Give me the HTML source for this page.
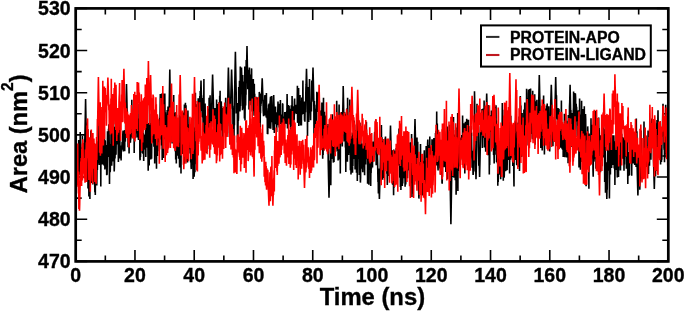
<!DOCTYPE html><html><head><meta charset="utf-8"><style>html,body{margin:0;padding:0;background:#fff;}svg{display:block;filter:blur(0.4px);}text{font-family:"Liberation Sans",sans-serif;font-weight:bold;fill:#000;stroke:#000;stroke-width:0.35px;}</style></head><body>
<svg width="685" height="314" viewBox="0 0 685 314">
<path d="M75.70 261.40V249.90M75.70 8.40V19.90M105.33 261.40V255.40M105.33 8.40V14.40M134.96 261.40V249.90M134.96 8.40V19.90M164.59 261.40V255.40M164.59 8.40V14.40M194.22 261.40V249.90M194.22 8.40V19.90M223.85 261.40V255.40M223.85 8.40V14.40M253.48 261.40V249.90M253.48 8.40V19.90M283.11 261.40V255.40M283.11 8.40V14.40M312.74 261.40V249.90M312.74 8.40V19.90M342.37 261.40V255.40M342.37 8.40V14.40M372.00 261.40V249.90M372.00 8.40V19.90M401.63 261.40V255.40M401.63 8.40V14.40M431.26 261.40V249.90M431.26 8.40V19.90M460.89 261.40V255.40M460.89 8.40V14.40M490.52 261.40V249.90M490.52 8.40V19.90M520.15 261.40V255.40M520.15 8.40V14.40M549.78 261.40V249.90M549.78 8.40V19.90M579.41 261.40V255.40M579.41 8.40V14.40M609.04 261.40V249.90M609.04 8.40V19.90M638.67 261.40V255.40M638.67 8.40V14.40M668.30 261.40V249.90M668.30 8.40V19.90M75.70 261.40H87.20M668.30 261.40H656.80M75.70 240.32H81.70M668.30 240.32H662.30M75.70 219.23H87.20M668.30 219.23H656.80M75.70 198.15H81.70M668.30 198.15H662.30M75.70 177.07H87.20M668.30 177.07H656.80M75.70 155.98H81.70M668.30 155.98H662.30M75.70 134.90H87.20M668.30 134.90H656.80M75.70 113.82H81.70M668.30 113.82H662.30M75.70 92.73H87.20M668.30 92.73H656.80M75.70 71.65H81.70M668.30 71.65H662.30M75.70 50.57H87.20M668.30 50.57H656.80M75.70 29.48H81.70M668.30 29.48H662.30M75.70 8.40H87.20M668.30 8.40H656.80" stroke="#000" stroke-width="1.6" fill="none"/>
<clipPath id="pc"><rect x="75.7" y="8.4" width="592.6" height="253.0"/></clipPath><g clip-path="url(#pc)"><polyline points="75.7,156.1 75.9,155.5 76.1,149.1 76.3,162.5 76.5,167.3 76.7,167.1 76.9,152.0 77.1,157.1 77.3,154.2 77.5,164.3 77.7,155.4 77.9,153.6 78.1,151.3 78.3,171.7 78.5,166.0 78.7,140.0 78.9,160.9 79.1,158.4 79.3,163.2 79.5,174.8 79.7,170.3 79.8,155.7 80.0,163.4 80.2,132.1 80.4,176.7 80.6,186.1 80.8,168.8 81.0,178.7 81.2,147.4 81.4,167.5 81.6,150.2 81.8,176.5 82.0,151.6 82.2,145.8 82.4,136.1 82.6,147.2 82.8,144.8 83.0,154.2 83.2,143.1 83.4,160.8 83.6,151.0 83.8,168.3 84.0,149.8 84.2,166.5 84.4,171.7 84.6,171.4 84.8,139.7 85.0,132.2 85.2,121.2 85.4,110.1 85.6,99.1 85.8,110.2 86.0,121.3 86.2,123.9 86.4,143.7 86.6,168.8 86.8,160.8 87.0,151.7 87.2,151.8 87.4,182.1 87.6,153.0 87.8,129.2 88.0,188.5 88.1,156.2 88.3,152.0 88.5,162.8 88.7,170.0 88.9,196.4 89.1,184.3 89.3,191.4 89.5,184.3 89.7,177.3 89.9,199.1 90.1,163.3 90.3,149.9 90.5,144.8 90.7,147.8 90.9,130.5 91.1,157.9 91.3,147.6 91.5,148.4 91.7,183.0 91.9,177.3 92.1,135.8 92.3,169.1 92.5,162.9 92.7,184.4 92.9,168.5 93.1,181.7 93.3,168.7 93.5,147.4 93.7,168.2 93.9,165.1 94.1,163.7 94.3,170.8 94.5,178.0 94.7,185.1 94.9,192.2 95.1,185.1 95.3,194.9 95.5,170.7 95.7,164.4 95.9,161.3 96.1,175.4 96.3,144.8 96.4,143.5 96.6,153.4 96.8,185.5 97.0,167.8 97.2,155.7 97.4,170.0 97.6,150.5 97.8,141.3 98.0,165.1 98.2,156.0 98.4,163.5 98.6,139.5 98.8,139.7 99.0,115.9 99.2,153.8 99.4,162.9 99.6,147.5 99.8,165.1 100.0,155.8 100.2,130.5 100.4,157.2 100.6,145.6 100.8,186.5 101.0,140.3 101.2,155.5 101.4,161.6 101.6,163.1 101.8,134.5 102.0,162.4 102.2,135.2 102.4,164.6 102.6,156.4 102.8,154.0 103.0,127.5 103.2,157.4 103.4,160.1 103.6,158.6 103.8,161.4 104.0,165.4 104.2,126.1 104.4,132.2 104.5,165.3 104.7,150.4 104.9,169.4 105.1,140.6 105.3,141.2 105.5,151.5 105.7,168.5 105.9,146.9 106.1,149.6 106.3,155.5 106.5,145.0 106.7,175.3 106.9,170.4 107.1,174.7 107.3,154.7 107.5,131.3 107.7,157.1 107.9,139.2 108.1,153.8 108.3,156.8 108.5,128.7 108.7,135.3 108.9,124.3 109.1,131.5 109.3,158.5 109.5,184.1 109.7,144.1 109.9,163.2 110.1,172.1 110.3,170.1 110.5,159.3 110.7,156.3 110.9,150.7 111.1,115.7 111.3,162.6 111.5,144.3 111.7,165.8 111.9,152.8 112.1,134.8 112.3,133.8 112.5,161.6 112.7,125.9 112.8,160.9 113.0,132.8 113.2,148.5 113.4,130.8 113.6,132.6 113.8,153.0 114.0,141.7 114.2,171.4 114.4,166.6 114.6,152.5 114.8,126.8 115.0,158.5 115.2,150.6 115.4,114.3 115.6,139.4 115.8,138.9 116.0,154.8 116.2,140.2 116.4,136.8 116.6,139.7 116.8,131.9 117.0,138.2 117.2,127.5 117.4,132.0 117.6,144.5 117.8,133.2 118.0,121.7 118.2,142.9 118.4,162.0 118.6,144.7 118.8,149.6 119.0,115.5 119.2,137.5 119.4,156.9 119.6,146.4 119.8,127.1 120.0,158.5 120.2,151.1 120.4,147.5 120.6,146.6 120.8,153.3 121.0,145.6 121.1,160.5 121.3,149.0 121.5,149.0 121.7,149.4 121.9,146.9 122.1,141.7 122.3,147.4 122.5,145.0 122.7,137.1 122.9,132.8 123.1,130.6 123.3,151.4 123.5,135.3 123.7,132.5 123.9,137.4 124.1,130.5 124.3,140.2 124.5,132.1 124.7,151.2 124.9,130.1 125.1,139.7 125.3,141.8 125.5,136.4 125.7,118.6 125.9,109.9 126.1,101.2 126.3,92.5 126.5,83.9 126.7,92.5 126.9,101.1 127.1,109.7 127.3,118.3 127.5,135.1 127.7,136.3 127.9,124.3 128.1,147.3 128.3,145.0 128.5,118.2 128.7,126.7 128.9,138.4 129.1,153.5 129.2,143.0 129.4,142.8 129.6,132.8 129.8,131.2 130.0,136.2 130.2,120.8 130.4,142.8 130.6,137.6 130.8,139.5 131.0,123.4 131.2,129.8 131.4,124.2 131.6,129.6 131.8,99.8 132.0,123.8 132.2,137.2 132.4,131.3 132.6,137.6 132.8,126.5 133.0,125.8 133.2,128.7 133.4,133.4 133.6,136.1 133.8,113.9 134.0,117.8 134.2,153.1 134.4,127.7 134.6,132.6 134.8,128.9 135.0,110.4 135.2,137.8 135.4,137.9 135.6,105.8 135.8,133.3 136.0,131.5 136.2,115.1 136.4,130.9 136.6,125.1 136.8,121.2 137.0,110.9 137.2,137.4 137.4,131.9 137.5,127.4 137.7,118.4 137.9,134.6 138.1,127.0 138.3,137.2 138.5,140.0 138.7,119.6 138.9,135.7 139.1,103.6 139.3,133.4 139.5,126.1 139.7,130.7 139.9,158.3 140.1,160.3 140.3,138.1 140.5,157.0 140.7,148.3 140.9,143.0 141.1,149.9 141.3,124.5 141.5,132.8 141.7,138.4 141.9,134.1 142.1,150.8 142.3,125.1 142.5,153.1 142.7,122.6 142.9,153.8 143.1,150.9 143.3,132.7 143.5,140.7 143.7,161.0 143.9,138.8 144.1,146.7 144.3,148.9 144.5,142.5 144.7,139.8 144.9,134.4 145.1,146.8 145.3,145.7 145.5,149.8 145.7,124.9 145.8,156.9 146.0,117.4 146.2,116.9 146.4,115.2 146.6,147.8 146.8,115.3 147.0,125.2 147.2,128.5 147.4,106.0 147.6,140.2 147.8,131.7 148.0,154.2 148.2,170.7 148.4,136.2 148.6,132.3 148.8,122.9 149.0,133.7 149.2,165.5 149.4,130.9 149.6,125.4 149.8,123.1 150.0,154.1 150.2,150.3 150.4,149.5 150.6,147.1 150.8,159.4 151.0,142.9 151.2,113.7 151.4,145.4 151.6,158.8 151.8,138.7 152.0,142.0 152.2,123.3 152.4,140.5 152.6,135.5 152.8,142.3 153.0,142.1 153.2,125.1 153.4,129.4 153.6,132.4 153.8,129.8 153.9,146.7 154.1,134.7 154.3,134.5 154.5,119.1 154.7,163.4 154.9,144.2 155.1,134.3 155.3,141.6 155.5,137.1 155.7,127.0 155.9,126.6 156.1,154.6 156.3,144.2 156.5,168.7 156.7,128.8 156.9,131.8 157.1,119.6 157.3,137.2 157.5,155.9 157.7,122.3 157.9,151.2 158.1,135.3 158.3,135.1 158.5,121.4 158.7,120.0 158.9,137.6 159.1,142.3 159.3,131.2 159.5,137.4 159.7,118.0 159.9,122.7 160.1,111.1 160.3,94.0 160.5,139.6 160.7,131.9 160.9,119.4 161.1,115.7 161.3,125.9 161.5,145.6 161.7,93.4 161.9,122.6 162.1,139.8 162.2,160.0 162.4,112.3 162.6,128.3 162.8,134.5 163.0,145.2 163.2,128.6 163.4,130.1 163.6,157.9 163.8,93.4 164.0,120.2 164.2,128.5 164.4,131.3 164.6,124.6 164.8,93.4 165.0,113.7 165.2,139.3 165.4,112.2 165.6,118.5 165.8,117.9 166.0,121.9 166.2,123.0 166.4,114.6 166.6,116.2 166.8,133.4 167.0,124.3 167.2,110.0 167.4,134.4 167.6,115.1 167.8,118.8 168.0,106.4 168.2,115.7 168.4,122.4 168.6,122.0 168.8,115.6 169.0,109.5 169.2,106.2 169.4,94.0 169.6,81.8 169.8,69.5 170.0,81.8 170.2,94.0 170.4,106.4 170.5,106.4 170.7,125.3 170.9,121.7 171.1,131.4 171.3,123.7 171.5,114.1 171.7,103.7 171.9,107.9 172.1,143.5 172.3,112.5 172.5,123.9 172.7,132.4 172.9,119.7 173.1,109.3 173.3,120.3 173.5,134.4 173.7,95.1 173.9,139.6 174.1,123.9 174.3,113.1 174.5,147.4 174.7,121.1 174.9,145.5 175.1,140.8 175.3,151.5 175.5,112.2 175.7,159.4 175.9,130.3 176.1,135.4 176.3,163.5 176.5,114.7 176.7,149.4 176.9,139.7 177.1,137.0 177.3,155.6 177.5,154.0 177.7,140.6 177.9,152.0 178.1,135.5 178.3,121.8 178.5,152.0 178.6,158.8 178.8,142.5 179.0,129.4 179.2,118.0 179.4,147.8 179.6,167.4 179.8,113.7 180.0,121.8 180.2,116.2 180.4,159.0 180.6,136.5 180.8,130.9 181.0,173.4 181.2,125.9 181.4,123.7 181.6,134.8 181.8,128.4 182.0,120.9 182.2,134.1 182.4,154.0 182.6,142.5 182.8,134.3 183.0,143.3 183.2,112.5 183.4,133.2 183.6,127.1 183.8,160.5 184.0,123.2 184.2,138.2 184.4,104.6 184.6,163.8 184.8,130.9 185.0,149.6 185.2,144.9 185.4,102.7 185.6,113.2 185.8,145.4 186.0,105.2 186.2,142.0 186.4,118.9 186.6,161.7 186.8,132.2 186.9,128.6 187.1,132.3 187.3,155.6 187.5,162.5 187.7,121.7 187.9,110.6 188.1,129.4 188.3,135.0 188.5,149.3 188.7,125.0 188.9,127.8 189.1,131.8 189.3,124.3 189.5,132.0 189.7,132.7 189.9,144.7 190.1,153.6 190.3,139.0 190.5,142.3 190.7,162.6 190.9,140.3 191.1,166.9 191.3,169.1 191.5,151.8 191.7,159.0 191.9,137.8 192.1,154.6 192.3,150.3 192.5,133.2 192.7,156.7 192.9,155.8 193.1,179.0 193.3,151.0 193.5,164.7 193.7,157.3 193.9,175.7 194.1,176.8 194.3,173.5 194.5,154.6 194.7,127.5 194.9,172.3 195.0,149.2 195.2,139.8 195.4,92.7 195.6,138.0 195.8,148.8 196.0,127.0 196.2,150.4 196.4,126.3 196.6,164.3 196.8,104.2 197.0,138.6 197.2,140.8 197.4,156.1 197.6,132.6 197.8,125.4 198.0,137.2 198.2,98.2 198.4,121.1 198.6,115.5 198.8,115.0 199.0,100.3 199.2,127.1 199.4,120.6 199.6,107.1 199.8,95.9 200.0,137.1 200.2,90.9 200.4,105.1 200.6,96.7 200.8,88.5 201.0,80.5 201.2,88.4 201.4,96.0 201.6,95.3 201.8,110.9 202.0,107.4 202.2,116.9 202.4,97.9 202.6,117.4 202.8,101.5 203.0,116.4 203.2,130.6 203.3,136.5 203.5,136.1 203.7,111.4 203.9,79.1 204.1,125.8 204.3,134.6 204.5,119.8 204.7,121.3 204.9,135.4 205.1,103.6 205.3,120.8 205.5,120.2 205.7,127.7 205.9,132.1 206.1,120.8 206.3,153.0 206.5,145.7 206.7,135.1 206.9,151.9 207.1,118.4 207.3,139.4 207.5,135.6 207.7,122.8 207.9,108.7 208.1,131.2 208.3,137.2 208.5,139.3 208.7,128.3 208.9,134.6 209.1,97.8 209.3,111.3 209.5,149.1 209.7,135.9 209.9,117.7 210.1,95.3 210.3,146.3 210.5,129.0 210.7,103.5 210.9,125.9 211.1,111.8 211.3,121.0 211.5,106.9 211.6,126.7 211.8,104.2 212.0,96.6 212.2,89.1 212.4,81.8 212.6,74.6 212.8,81.7 213.0,88.6 213.2,95.6 213.4,102.7 213.6,116.2 213.8,122.8 214.0,130.6 214.2,129.0 214.4,138.9 214.6,130.9 214.8,134.5 215.0,108.0 215.2,136.2 215.4,133.8 215.6,146.7 215.8,130.5 216.0,139.2 216.2,138.3 216.4,119.6 216.6,99.6 216.8,132.3 217.0,128.4 217.2,123.2 217.4,117.9 217.6,103.9 217.8,126.6 218.0,117.1 218.2,120.4 218.4,122.6 218.6,114.7 218.8,125.2 219.0,108.1 219.2,102.1 219.4,124.3 219.6,123.6 219.7,95.7 219.9,111.5 220.1,90.7 220.3,144.3 220.5,112.4 220.7,126.0 220.9,118.8 221.1,101.8 221.3,101.5 221.5,114.9 221.7,106.1 221.9,130.5 222.1,115.3 222.3,121.1 222.5,141.3 222.7,108.0 222.9,124.3 223.1,108.3 223.3,121.5 223.5,114.0 223.7,109.7 223.9,119.1 224.1,122.8 224.3,107.5 224.5,110.9 224.7,119.2 224.9,114.8 225.1,115.5 225.3,121.4 225.5,107.4 225.7,97.7 225.9,122.5 226.1,118.9 226.3,126.7 226.5,132.5 226.7,107.0 226.9,124.2 227.1,111.8 227.3,126.3 227.5,120.5 227.7,101.0 227.9,92.4 228.0,84.0 228.2,75.7 228.4,67.4 228.6,75.5 228.8,83.5 229.0,91.4 229.2,99.2 229.4,137.1 229.6,134.9 229.8,132.0 230.0,103.2 230.2,142.1 230.4,129.0 230.6,133.1 230.8,97.9 231.0,90.6 231.2,83.5 231.4,76.5 231.6,69.5 231.8,76.3 232.0,83.0 232.2,89.8 232.4,96.5 232.6,108.7 232.8,105.7 233.0,131.0 233.2,132.4 233.4,119.0 233.6,110.5 233.8,107.8 234.0,138.4 234.2,115.6 234.4,125.2 234.6,93.0 234.8,82.7 235.0,72.4 235.2,62.1 235.4,51.8 235.6,62.1 235.8,72.4 236.0,82.7 236.2,93.0 236.3,113.4 236.5,106.4 236.7,113.1 236.9,112.5 237.1,103.8 237.3,103.8 237.5,142.5 237.7,117.2 237.9,143.2 238.1,112.6 238.3,121.0 238.5,117.6 238.7,87.0 238.9,104.6 239.1,90.4 239.3,96.5 239.5,80.8 239.7,107.6 239.9,111.5 240.1,107.3 240.3,66.5 240.5,106.1 240.7,94.6 240.9,84.0 241.1,80.9 241.3,74.1 241.5,67.4 241.7,74.1 241.9,80.7 242.1,87.2 242.3,90.5 242.5,110.2 242.7,75.1 242.9,102.1 243.1,96.0 243.3,81.6 243.5,108.8 243.7,103.3 243.9,102.2 244.1,97.0 244.3,86.9 244.4,118.4 244.6,103.7 244.8,66.5 245.0,120.6 245.2,97.3 245.4,78.7 245.6,105.6 245.8,93.0 246.0,94.7 246.2,60.0 246.4,77.8 246.6,67.2 246.8,56.6 247.0,45.9 247.2,56.6 247.4,67.2 247.6,77.8 247.8,88.4 248.0,88.4 248.2,88.5 248.4,84.6 248.6,69.8 248.8,71.5 249.0,109.6 249.2,104.0 249.4,67.6 249.6,96.0 249.8,101.5 250.0,82.1 250.2,105.2 250.4,86.1 250.6,97.5 250.8,74.6 251.0,91.5 251.2,82.6 251.4,74.7 251.6,68.4 251.8,100.4 252.0,97.3 252.2,111.6 252.4,110.5 252.6,96.7 252.7,90.1 252.9,84.1 253.1,101.6 253.3,79.0 253.5,101.3 253.7,92.5 253.9,107.0 254.1,115.8 254.3,83.7 254.5,107.7 254.7,93.8 254.9,112.4 255.1,102.7 255.3,108.0 255.5,112.7 255.7,106.6 255.9,98.9 256.1,120.3 256.3,118.0 256.5,96.7 256.7,116.6 256.9,107.3 257.1,125.1 257.3,110.9 257.5,97.4 257.7,108.1 257.9,104.5 258.1,113.1 258.3,108.9 258.5,123.1 258.7,121.9 258.9,99.1 259.1,120.1 259.3,91.9 259.5,97.0 259.7,116.9 259.9,127.3 260.1,131.3 260.3,106.4 260.5,113.2 260.7,98.6 260.9,105.9 261.0,93.6 261.2,103.8 261.4,99.9 261.6,94.6 261.8,89.2 262.0,83.8 262.2,78.4 262.4,83.9 262.6,89.5 262.8,95.1 263.0,100.8 263.2,110.7 263.4,113.8 263.6,116.3 263.8,111.8 264.0,115.1 264.2,99.8 264.4,100.2 264.6,115.4 264.8,96.4 265.0,95.1 265.2,106.0 265.4,114.8 265.6,105.4 265.8,109.1 266.0,106.9 266.2,117.6 266.4,93.1 266.6,112.7 266.8,108.3 267.0,118.3 267.2,112.7 267.4,134.1 267.6,125.4 267.8,134.3 268.0,110.4 268.2,127.8 268.4,127.3 268.6,104.6 268.8,117.1 269.0,110.8 269.1,103.5 269.3,109.7 269.5,113.0 269.7,108.9 269.9,128.6 270.1,102.0 270.3,100.3 270.5,96.9 270.7,128.8 270.9,121.0 271.1,115.1 271.3,96.3 271.5,104.4 271.7,96.0 271.9,106.9 272.1,116.2 272.3,122.1 272.5,120.6 272.7,105.3 272.9,123.4 273.1,130.0 273.3,113.4 273.5,103.4 273.7,95.1 273.9,103.0 274.1,109.7 274.3,133.0 274.5,118.7 274.7,120.8 274.9,117.0 275.1,124.0 275.3,111.7 275.5,106.6 275.7,118.0 275.9,124.2 276.1,122.2 276.3,122.9 276.5,118.9 276.7,132.0 276.9,112.3 277.1,124.7 277.3,121.3 277.4,114.2 277.6,125.2 277.8,111.4 278.0,101.4 278.2,116.0 278.4,117.4 278.6,121.1 278.8,103.8 279.0,105.1 279.2,127.6 279.4,108.8 279.6,118.5 279.8,123.3 280.0,113.6 280.2,117.3 280.4,100.1 280.6,122.6 280.8,123.9 281.0,122.0 281.2,116.0 281.4,114.4 281.6,127.9 281.8,129.8 282.0,135.5 282.2,122.9 282.4,128.1 282.6,103.9 282.8,103.8 283.0,128.3 283.2,121.4 283.4,120.3 283.6,129.0 283.8,126.8 284.0,116.4 284.2,127.0 284.4,127.6 284.6,123.1 284.8,111.9 285.0,122.7 285.2,119.7 285.4,118.7 285.6,117.1 285.7,123.6 285.9,123.2 286.1,121.2 286.3,112.7 286.5,112.0 286.7,116.4 286.9,113.4 287.1,93.9 287.3,106.8 287.5,128.5 287.7,105.6 287.9,114.6 288.1,122.9 288.3,105.1 288.5,117.5 288.7,105.7 288.9,118.7 289.1,105.7 289.3,118.6 289.5,109.5 289.7,110.9 289.9,124.4 290.1,113.0 290.3,108.9 290.5,114.9 290.7,129.8 290.9,111.1 291.1,116.6 291.3,105.3 291.5,124.6 291.7,106.2 291.9,116.5 292.1,95.9 292.3,126.5 292.5,109.9 292.7,121.2 292.9,125.8 293.1,108.3 293.3,112.1 293.5,106.3 293.7,130.5 293.8,123.6 294.0,109.2 294.2,119.7 294.4,101.5 294.6,98.5 294.8,114.3 295.0,108.6 295.2,107.0 295.4,111.2 295.6,106.3 295.8,109.0 296.0,104.7 296.2,111.3 296.4,113.2 296.6,109.3 296.8,113.9 297.0,108.1 297.2,101.0 297.4,85.7 297.6,122.7 297.8,122.1 298.0,107.2 298.2,106.2 298.4,106.2 298.6,87.9 298.8,125.9 299.0,111.3 299.2,122.8 299.4,111.1 299.6,102.6 299.8,121.3 300.0,95.1 300.2,111.9 300.4,115.0 300.6,125.6 300.8,114.6 301.0,115.7 301.2,101.1 301.4,125.5 301.6,105.5 301.8,97.6 302.0,110.6 302.1,98.9 302.3,114.6 302.5,98.0 302.7,108.5 302.9,80.5 303.1,107.5 303.3,112.2 303.5,108.1 303.7,113.1 303.9,113.7 304.1,105.8 304.3,101.5 304.5,120.4 304.7,117.3 304.9,121.7 305.1,108.5 305.3,109.9 305.5,112.4 305.7,100.4 305.9,88.1 306.1,84.4 306.3,76.5 306.5,68.7 306.7,76.5 306.9,84.2 307.1,92.0 307.3,99.7 307.5,136.0 307.7,99.1 307.9,114.9 308.1,87.0 308.3,116.6 308.5,107.6 308.7,121.9 308.9,100.1 309.1,103.5 309.3,95.5 309.5,79.1 309.7,89.2 309.9,102.7 310.1,110.8 310.3,109.9 310.4,112.2 310.6,120.2 310.8,102.6 311.0,110.9 311.2,103.8 311.4,111.5 311.6,99.5 311.8,80.6 312.0,101.7 312.2,98.9 312.4,91.5 312.6,83.5 312.8,75.4 313.0,67.4 313.2,75.5 313.4,83.7 313.6,91.9 313.8,100.3 314.0,134.8 314.2,117.0 314.4,101.0 314.6,127.2 314.8,104.9 315.0,110.4 315.2,114.6 315.4,110.9 315.6,128.3 315.8,110.9 316.0,133.6 316.2,125.1 316.4,108.8 316.6,126.7 316.8,91.8 317.0,108.8 317.2,101.4 317.4,97.3 317.6,111.9 317.8,109.1 318.0,105.8 318.2,110.3 318.4,92.6 318.5,93.4 318.7,99.2 318.9,91.7 319.1,104.7 319.3,101.0 319.5,112.0 319.7,115.2 319.9,121.4 320.1,122.4 320.3,111.3 320.5,110.6 320.7,142.8 320.9,123.0 321.1,112.1 321.3,122.0 321.5,134.3 321.7,133.7 321.9,102.5 322.1,143.9 322.3,134.5 322.5,124.2 322.7,158.8 322.9,127.1 323.1,155.1 323.3,118.3 323.5,97.7 323.7,150.4 323.9,128.9 324.1,121.9 324.3,130.7 324.5,111.7 324.7,129.2 324.9,129.4 325.1,137.7 325.3,131.6 325.5,123.4 325.7,115.6 325.9,134.2 326.1,147.8 326.3,142.3 326.5,140.4 326.7,140.0 326.8,125.9 327.0,139.2 327.2,137.2 327.4,130.3 327.6,140.5 327.8,147.9 328.0,124.0 328.2,160.9 328.4,170.1 328.6,179.3 328.8,188.5 329.0,197.7 329.2,188.5 329.4,179.2 329.6,169.9 329.8,160.5 330.0,161.6 330.2,161.3 330.4,140.3 330.6,144.7 330.8,185.3 331.0,157.1 331.2,158.3 331.4,141.9 331.6,159.0 331.8,137.9 332.0,149.1 332.2,141.3 332.4,114.2 332.6,139.8 332.8,146.2 333.0,136.0 333.2,157.6 333.4,162.6 333.6,138.8 333.8,142.8 334.0,161.9 334.2,124.2 334.4,130.9 334.6,135.3 334.8,143.3 335.0,134.5 335.1,139.0 335.3,121.6 335.5,152.1 335.7,123.5 335.9,129.0 336.1,148.5 336.3,122.0 336.5,136.7 336.7,100.7 336.9,113.6 337.1,143.1 337.3,148.2 337.5,151.3 337.7,150.0 337.9,133.6 338.1,160.4 338.3,117.7 338.5,124.0 338.7,132.4 338.9,125.3 339.1,104.5 339.3,139.7 339.5,124.5 339.7,159.4 339.9,158.7 340.1,127.1 340.3,173.5 340.5,120.0 340.7,134.5 340.9,143.9 341.1,133.5 341.3,133.3 341.5,111.9 341.7,123.6 341.9,130.0 342.1,138.2 342.3,146.5 342.5,124.3 342.7,114.5 342.9,104.8 343.1,95.4 343.2,86.0 343.4,95.5 343.6,105.1 343.8,114.9 344.0,124.8 344.2,141.5 344.4,123.1 344.6,119.7 344.8,112.3 345.0,132.8 345.2,114.1 345.4,147.4 345.6,132.5 345.8,171.9 346.0,135.9 346.2,138.4 346.4,124.8 346.6,123.0 346.8,108.4 347.0,152.6 347.2,134.5 347.4,161.8 347.6,97.7 347.8,111.6 348.0,132.0 348.2,126.5 348.4,127.9 348.6,154.9 348.8,133.5 349.0,126.6 349.2,138.1 349.4,152.3 349.6,152.3 349.8,99.5 350.0,143.1 350.2,132.9 350.4,170.2 350.6,140.8 350.8,152.5 351.0,174.4 351.2,136.2 351.4,161.3 351.5,154.5 351.7,157.2 351.9,168.3 352.1,153.3 352.3,132.4 352.5,172.8 352.7,161.4 352.9,166.1 353.1,134.6 353.3,158.7 353.5,148.0 353.7,134.1 353.9,159.0 354.1,120.4 354.3,150.0 354.5,148.4 354.7,124.5 354.9,141.9 355.1,169.4 355.3,149.2 355.5,160.5 355.7,143.5 355.9,153.3 356.1,148.4 356.3,130.4 356.5,172.7 356.7,146.4 356.9,151.8 357.1,143.5 357.3,181.1 357.5,158.5 357.7,145.3 357.9,115.4 358.1,155.4 358.3,157.8 358.5,148.2 358.7,141.9 358.9,158.9 359.1,146.6 359.3,175.0 359.5,127.3 359.7,163.2 359.8,159.1 360.0,122.8 360.2,168.6 360.4,182.6 360.6,177.4 360.8,136.0 361.0,159.2 361.2,168.8 361.4,159.3 361.6,162.2 361.8,144.6 362.0,143.5 362.2,149.4 362.4,152.5 362.6,168.8 362.8,172.2 363.0,156.8 363.2,153.7 363.4,151.2 363.6,146.8 363.8,140.2 364.0,163.1 364.2,149.1 364.4,159.2 364.6,175.2 364.8,141.4 365.0,153.7 365.2,144.1 365.4,146.6 365.6,164.5 365.8,129.4 366.0,145.3 366.2,135.5 366.4,121.7 366.6,154.4 366.8,159.1 367.0,151.7 367.2,140.2 367.4,142.5 367.6,183.7 367.8,139.6 367.9,168.5 368.1,159.8 368.3,179.6 368.5,173.3 368.7,156.7 368.9,184.8 369.1,149.8 369.3,165.2 369.5,152.4 369.7,155.7 369.9,167.2 370.1,145.0 370.3,134.3 370.5,152.4 370.7,186.1 370.9,166.8 371.1,173.0 371.3,159.1 371.5,168.5 371.7,142.2 371.9,159.1 372.1,158.4 372.3,166.7 372.5,167.4 372.7,148.5 372.9,141.5 373.1,142.1 373.3,147.6 373.5,153.9 373.7,144.1 373.9,150.0 374.1,154.6 374.3,154.7 374.5,135.8 374.7,131.7 374.9,147.0 375.1,144.7 375.3,133.5 375.5,144.5 375.7,119.7 375.9,135.6 376.1,145.9 376.2,165.2 376.4,139.8 376.6,131.6 376.8,147.2 377.0,131.5 377.2,158.8 377.4,155.1 377.6,161.5 377.8,172.6 378.0,181.9 378.2,178.3 378.4,193.6 378.6,168.5 378.8,176.2 379.0,183.9 379.2,191.5 379.4,199.0 379.6,191.6 379.8,184.2 380.0,177.0 380.2,169.7 380.4,161.4 380.6,146.0 380.8,140.5 381.0,169.0 381.2,166.3 381.4,125.0 381.6,147.1 381.8,148.0 382.0,137.2 382.2,155.2 382.4,165.7 382.6,179.7 382.8,141.1 383.0,173.0 383.2,145.5 383.4,178.1 383.6,160.6 383.8,152.4 384.0,165.6 384.2,159.0 384.3,167.7 384.5,156.9 384.7,167.7 384.9,155.2 385.1,138.5 385.3,139.5 385.5,136.5 385.7,156.8 385.9,167.3 386.1,165.1 386.3,158.9 386.5,160.2 386.7,146.0 386.9,173.7 387.1,164.9 387.3,185.0 387.5,174.4 387.7,156.9 387.9,171.6 388.1,161.3 388.3,165.0 388.5,156.4 388.7,176.1 388.9,157.7 389.1,158.0 389.3,152.6 389.5,146.2 389.7,156.3 389.9,148.6 390.1,140.9 390.3,133.3 390.5,125.6 390.7,133.2 390.9,140.8 391.1,148.4 391.3,155.9 391.5,174.0 391.7,170.3 391.9,150.1 392.1,150.9 392.3,153.2 392.5,173.5 392.6,184.7 392.8,161.4 393.0,150.9 393.2,175.0 393.4,172.7 393.6,195.2 393.8,149.6 394.0,170.7 394.2,187.5 394.4,172.0 394.6,183.0 394.8,166.7 395.0,150.7 395.2,181.2 395.4,164.1 395.6,171.5 395.8,176.1 396.0,162.7 396.2,147.9 396.4,163.3 396.6,169.7 396.8,156.0 397.0,157.6 397.2,152.2 397.4,165.9 397.6,155.7 397.8,141.3 398.0,155.2 398.2,145.0 398.4,156.0 398.6,156.8 398.8,165.6 399.0,128.5 399.2,142.4 399.4,147.2 399.6,148.6 399.8,177.8 400.0,176.3 400.2,169.3 400.4,187.0 400.6,173.9 400.8,155.5 400.9,190.0 401.1,176.2 401.3,162.7 401.5,155.9 401.7,154.8 401.9,159.6 402.1,141.4 402.3,186.0 402.5,155.7 402.7,183.4 402.9,176.0 403.1,168.1 403.3,143.9 403.5,172.8 403.7,178.1 403.9,149.3 404.1,164.2 404.3,162.7 404.5,155.3 404.7,148.9 404.9,158.3 405.1,186.8 405.3,168.2 405.5,168.0 405.7,184.4 405.9,177.4 406.1,157.4 406.3,160.1 406.5,170.3 406.7,150.9 406.9,157.5 407.1,176.3 407.3,166.2 407.5,178.3 407.7,169.4 407.9,153.0 408.1,170.5 408.3,169.1 408.5,143.2 408.7,163.5 408.9,154.2 409.0,152.5 409.2,148.5 409.4,149.1 409.6,161.4 409.8,166.6 410.0,165.6 410.2,142.3 410.4,145.0 410.6,159.2 410.8,147.3 411.0,157.7 411.2,183.3 411.4,147.9 411.6,134.1 411.8,171.2 412.0,197.0 412.2,160.0 412.4,165.8 412.6,167.4 412.8,193.8 413.0,165.6 413.2,164.1 413.4,160.9 413.6,163.1 413.8,149.0 414.0,168.9 414.2,153.6 414.4,145.0 414.6,136.4 414.8,127.7 415.0,118.9 415.2,127.7 415.4,136.6 415.6,145.6 415.8,154.6 416.0,153.2 416.2,181.3 416.4,165.1 416.6,141.5 416.8,168.0 417.0,137.5 417.2,153.8 417.3,166.3 417.5,163.2 417.7,141.8 417.9,168.0 418.1,175.6 418.3,179.2 418.5,185.8 418.7,192.2 418.9,198.6 419.1,192.3 419.3,186.2 419.5,180.2 419.7,174.3 419.9,162.1 420.1,171.4 420.3,166.4 420.5,144.1 420.7,169.9 420.9,186.8 421.1,184.7 421.3,185.1 421.5,195.3 421.7,164.7 421.9,156.5 422.1,184.8 422.3,164.8 422.5,183.0 422.7,184.2 422.9,195.4 423.1,176.1 423.3,161.1 423.5,164.6 423.7,170.6 423.9,179.4 424.1,158.0 424.3,150.3 424.5,181.0 424.7,172.4 424.9,172.6 425.1,180.9 425.3,184.6 425.5,181.1 425.6,165.3 425.8,163.5 426.0,161.2 426.2,145.9 426.4,168.7 426.6,175.9 426.8,171.7 427.0,155.2 427.2,167.5 427.4,176.7 427.6,143.8 427.8,139.6 428.0,149.9 428.2,145.7 428.4,164.9 428.6,166.3 428.8,146.4 429.0,145.1 429.2,150.6 429.4,151.6 429.6,157.4 429.8,136.6 430.0,166.2 430.2,157.8 430.4,146.4 430.6,169.7 430.8,154.0 431.0,155.7 431.2,147.8 431.4,185.8 431.6,158.7 431.8,161.1 432.0,139.2 432.2,154.9 432.4,162.0 432.6,143.0 432.8,148.0 433.0,144.1 433.2,139.5 433.4,145.2 433.6,160.4 433.7,141.9 433.9,138.0 434.1,142.8 434.3,140.6 434.5,142.6 434.7,148.4 434.9,148.7 435.1,159.5 435.3,161.8 435.5,133.0 435.7,145.2 435.9,130.7 436.1,142.7 436.3,165.6 436.5,144.1 436.7,111.5 436.9,140.0 437.1,145.2 437.3,123.4 437.5,146.7 437.7,150.7 437.9,167.3 438.1,170.5 438.3,138.4 438.5,145.4 438.7,148.0 438.9,136.6 439.1,154.5 439.3,148.7 439.5,163.2 439.7,163.7 439.9,168.4 440.1,142.2 440.3,149.2 440.5,173.9 440.7,168.1 440.9,158.1 441.1,170.6 441.3,152.9 441.5,173.1 441.7,168.4 441.9,162.2 442.0,182.6 442.2,183.7 442.4,169.9 442.6,140.2 442.8,145.2 443.0,146.2 443.2,160.4 443.4,162.0 443.6,152.3 443.8,142.9 444.0,167.3 444.2,156.8 444.4,157.9 444.6,131.6 444.8,158.6 445.0,166.7 445.2,142.9 445.4,163.0 445.6,145.6 445.8,171.9 446.0,134.6 446.2,163.9 446.4,164.7 446.6,164.1 446.8,154.8 447.0,151.6 447.2,151.3 447.4,126.4 447.6,179.3 447.8,166.0 448.0,157.1 448.2,153.8 448.4,131.9 448.6,147.8 448.8,154.4 449.0,168.1 449.2,130.5 449.4,148.6 449.6,124.7 449.8,189.9 450.0,142.3 450.2,177.3 450.3,189.2 450.5,201.0 450.7,212.7 450.9,224.3 451.1,212.7 451.3,200.9 451.5,188.9 451.7,176.8 451.9,170.4 452.1,149.5 452.3,162.4 452.5,139.4 452.7,166.0 452.9,174.9 453.1,177.0 453.3,151.9 453.5,117.0 453.7,177.6 453.9,174.8 454.1,134.6 454.3,149.7 454.5,144.3 454.7,156.6 454.9,157.7 455.1,162.0 455.3,180.3 455.5,157.0 455.7,171.7 455.9,142.4 456.1,194.8 456.3,185.5 456.5,155.8 456.7,156.5 456.9,127.4 457.1,166.5 457.3,148.6 457.5,180.3 457.7,113.0 457.9,191.1 458.1,127.7 458.3,151.6 458.4,170.9 458.6,155.8 458.8,138.8 459.0,154.5 459.2,166.6 459.4,150.9 459.6,153.7 459.8,137.6 460.0,142.8 460.2,160.8 460.4,155.3 460.6,143.6 460.8,144.5 461.0,137.5 461.2,157.3 461.4,142.9 461.6,156.2 461.8,135.0 462.0,137.1 462.2,138.7 462.4,160.2 462.6,115.4 462.8,151.5 463.0,145.8 463.2,134.7 463.4,127.9 463.6,146.5 463.8,146.0 464.0,162.1 464.2,123.2 464.4,150.1 464.6,143.0 464.8,173.5 465.0,150.9 465.2,129.0 465.4,121.8 465.6,158.1 465.8,135.5 466.0,125.9 466.2,161.1 466.4,149.5 466.6,126.9 466.7,118.8 466.9,160.9 467.1,156.1 467.3,119.8 467.5,151.4 467.7,135.0 467.9,160.2 468.1,122.1 468.3,137.9 468.5,119.8 468.7,160.7 468.9,147.8 469.1,157.0 469.3,160.1 469.5,166.4 469.7,141.6 469.9,164.2 470.1,148.3 470.3,158.4 470.5,137.7 470.7,127.9 470.9,129.2 471.1,125.8 471.3,147.1 471.5,132.4 471.7,146.3 471.9,155.1 472.1,167.7 472.3,150.8 472.5,155.6 472.7,162.0 472.9,168.5 473.1,175.0 473.3,173.1 473.5,161.8 473.7,155.2 473.9,148.5 474.1,151.4 474.3,142.0 474.5,91.2 474.7,101.6 474.9,136.6 475.0,135.8 475.2,171.6 475.4,156.0 475.6,163.6 475.8,171.3 476.0,179.2 476.2,171.2 476.4,163.0 476.6,154.8 476.8,146.4 477.0,103.8 477.2,114.8 477.4,111.0 477.6,129.8 477.8,125.8 478.0,134.1 478.2,129.8 478.4,126.6 478.6,135.7 478.8,165.7 479.0,155.2 479.2,159.9 479.4,168.4 479.6,177.1 479.8,168.3 480.0,159.4 480.2,150.4 480.4,141.3 480.6,124.0 480.8,123.8 481.0,129.7 481.2,112.8 481.4,127.2 481.6,120.9 481.8,134.8 482.0,109.1 482.2,130.5 482.4,148.0 482.6,126.4 482.8,137.9 483.0,120.1 483.1,108.5 483.3,119.4 483.5,129.7 483.7,136.7 483.9,132.6 484.1,100.5 484.3,114.2 484.5,146.8 484.7,147.2 484.9,130.9 485.1,137.9 485.3,136.5 485.5,128.6 485.7,151.7 485.9,122.4 486.1,115.2 486.3,108.0 486.5,100.8 486.7,93.6 486.9,100.8 487.1,108.1 487.3,115.6 487.5,123.3 487.7,125.1 487.9,155.2 488.1,105.1 488.3,150.8 488.5,142.6 488.7,118.6 488.9,111.8 489.1,133.0 489.3,174.4 489.5,135.3 489.7,164.9 489.9,141.8 490.1,121.6 490.3,118.8 490.5,127.1 490.7,122.3 490.9,114.9 491.1,131.3 491.3,131.4 491.4,110.4 491.6,129.3 491.8,119.1 492.0,136.2 492.2,127.6 492.4,115.6 492.6,114.4 492.8,101.0 493.0,113.3 493.2,138.6 493.4,142.5 493.6,155.1 493.8,139.1 494.0,154.2 494.2,163.6 494.4,124.0 494.6,107.1 494.8,154.8 495.0,111.4 495.2,125.6 495.4,149.8 495.6,150.4 495.8,145.5 496.0,105.2 496.2,136.9 496.4,120.5 496.6,162.0 496.8,132.6 497.0,140.1 497.2,163.3 497.4,162.6 497.6,146.6 497.8,185.8 498.0,158.7 498.2,181.9 498.4,161.0 498.6,154.9 498.8,148.4 499.0,151.7 499.2,167.0 499.4,172.1 499.6,174.7 499.7,165.6 499.9,158.8 500.1,159.1 500.3,151.0 500.5,167.8 500.7,179.2 500.9,142.5 501.1,162.5 501.3,173.1 501.5,164.3 501.7,152.4 501.9,150.6 502.1,135.4 502.3,103.0 502.5,161.5 502.7,109.7 502.9,138.6 503.1,147.8 503.3,180.7 503.5,146.3 503.7,129.0 503.9,162.5 504.1,177.8 504.3,175.0 504.5,152.0 504.7,156.3 504.9,120.1 505.1,151.9 505.3,130.1 505.5,171.2 505.7,158.3 505.9,133.0 506.1,152.9 506.3,139.5 506.5,170.5 506.7,163.5 506.9,152.3 507.1,170.0 507.3,157.1 507.5,121.0 507.7,147.1 507.8,137.0 508.0,118.1 508.2,147.2 508.4,155.5 508.6,159.9 508.8,130.4 509.0,131.5 509.2,114.8 509.4,118.2 509.6,173.4 509.8,133.0 510.0,102.7 510.2,132.1 510.4,140.4 510.6,159.8 510.8,115.7 511.0,154.7 511.2,141.6 511.4,147.5 511.6,134.2 511.8,148.3 512.0,157.8 512.2,130.5 512.4,158.2 512.6,143.9 512.8,165.9 513.0,135.0 513.2,156.5 513.4,144.4 513.6,144.0 513.8,176.4 514.0,186.4 514.2,128.8 514.4,152.0 514.6,149.3 514.8,154.9 515.0,152.6 515.2,135.0 515.4,121.2 515.6,131.2 515.8,160.1 516.0,123.7 516.1,133.2 516.3,147.0 516.5,157.9 516.7,165.2 516.9,122.6 517.1,154.0 517.3,123.8 517.5,147.5 517.7,125.3 517.9,149.3 518.1,152.4 518.3,139.2 518.5,166.9 518.7,162.5 518.9,133.0 519.1,116.4 519.3,139.3 519.5,171.1 519.7,157.0 519.9,134.3 520.1,135.8 520.3,95.9 520.5,102.3 520.7,139.9 520.9,105.5 521.1,154.7 521.3,152.0 521.5,115.0 521.7,156.9 521.9,148.3 522.1,112.9 522.3,142.9 522.5,117.3 522.7,126.6 522.9,144.8 523.1,128.9 523.3,121.2 523.5,122.7 523.7,141.6 523.9,109.6 524.1,157.5 524.3,128.7 524.4,124.7 524.6,112.4 524.8,102.5 525.0,152.2 525.2,139.4 525.4,139.1 525.6,143.6 525.8,126.3 526.0,124.8 526.2,130.9 526.4,140.8 526.6,88.8 526.8,145.5 527.0,127.5 527.2,104.5 527.4,111.4 527.6,106.6 527.8,98.1 528.0,119.0 528.2,111.2 528.4,93.5 528.6,89.5 528.8,128.5 529.0,116.0 529.2,108.7 529.4,92.3 529.6,122.2 529.8,89.0 530.0,116.0 530.2,93.2 530.4,105.4 530.6,88.4 530.8,132.1 531.0,114.1 531.2,125.5 531.4,132.0 531.6,107.1 531.8,134.0 532.0,107.4 532.2,137.2 532.4,139.2 532.5,111.1 532.7,90.7 532.9,116.5 533.1,139.0 533.3,121.5 533.5,131.9 533.7,136.3 533.9,115.7 534.1,113.6 534.3,107.5 534.5,140.6 534.7,94.2 534.9,125.0 535.1,144.7 535.3,129.0 535.5,111.4 535.7,131.9 535.9,114.2 536.1,132.2 536.3,101.2 536.5,114.1 536.7,118.7 536.9,99.7 537.1,129.6 537.3,114.6 537.5,109.2 537.7,114.1 537.9,122.1 538.1,110.4 538.3,132.4 538.5,112.8 538.7,103.4 538.9,93.9 539.1,84.5 539.3,75.0 539.5,84.5 539.7,93.9 539.9,103.4 540.1,112.8 540.3,119.9 540.5,116.4 540.7,118.4 540.8,147.9 541.0,143.3 541.2,125.3 541.4,140.0 541.6,139.3 541.8,128.9 542.0,123.7 542.2,150.4 542.4,132.3 542.6,123.8 542.8,126.5 543.0,112.4 543.2,136.2 543.4,109.7 543.6,95.6 543.8,113.0 544.0,112.7 544.2,113.6 544.4,154.5 544.6,138.0 544.8,108.6 545.0,141.9 545.2,120.8 545.4,120.2 545.6,109.0 545.8,129.7 546.0,116.4 546.2,131.3 546.4,105.4 546.6,140.1 546.8,136.6 547.0,122.6 547.2,103.4 547.4,125.5 547.6,125.8 547.8,130.8 548.0,107.2 548.2,130.2 548.4,124.6 548.6,123.1 548.8,106.3 549.0,132.0 549.1,130.6 549.3,120.4 549.5,130.4 549.7,151.5 549.9,142.9 550.1,135.1 550.3,124.9 550.5,113.4 550.7,102.4 550.9,99.0 551.1,91.9 551.3,84.7 551.5,91.8 551.7,98.9 551.9,106.0 552.1,113.1 552.3,122.7 552.5,142.6 552.7,117.1 552.9,146.3 553.1,131.9 553.3,129.3 553.5,136.3 553.7,135.6 553.9,131.3 554.1,121.6 554.3,120.8 554.5,126.8 554.7,129.2 554.9,111.5 555.1,102.9 555.3,94.3 555.5,85.7 555.7,77.1 555.9,85.7 556.1,94.4 556.3,103.1 556.5,95.2 556.7,117.9 556.9,118.3 557.1,119.3 557.2,111.9 557.4,120.3 557.6,128.0 557.8,126.6 558.0,108.1 558.2,127.3 558.4,149.8 558.6,116.9 558.8,124.0 559.0,108.7 559.2,127.7 559.4,127.7 559.6,127.0 559.8,141.6 560.0,123.1 560.2,141.4 560.4,147.7 560.6,131.9 560.8,130.9 561.0,127.6 561.2,125.4 561.4,100.4 561.6,145.5 561.8,124.5 562.0,148.8 562.2,145.3 562.4,130.3 562.6,149.7 562.8,136.1 563.0,124.1 563.2,157.0 563.4,145.6 563.6,136.5 563.8,133.1 564.0,125.3 564.2,157.1 564.4,113.8 564.6,119.8 564.8,116.1 565.0,157.3 565.2,124.5 565.4,136.8 565.5,113.8 565.7,124.2 565.9,134.3 566.1,143.3 566.3,133.2 566.5,120.7 566.7,157.6 566.9,149.5 567.1,136.1 567.3,134.8 567.5,144.0 567.7,129.8 567.9,131.4 568.1,163.3 568.3,115.0 568.5,156.5 568.7,117.9 568.9,122.7 569.1,160.5 569.3,122.8 569.5,106.6 569.7,102.3 569.9,94.3 570.1,84.7 570.3,94.4 570.5,104.1 570.7,113.9 570.9,109.9 571.1,147.1 571.3,124.5 571.5,146.2 571.7,139.5 571.9,113.0 572.1,127.6 572.3,113.4 572.5,127.3 572.7,128.8 572.9,134.2 573.1,137.5 573.3,111.1 573.5,107.9 573.6,91.6 573.8,111.8 574.0,117.8 574.2,107.8 574.4,95.8 574.6,136.0 574.8,93.0 575.0,134.6 575.2,134.9 575.4,93.6 575.6,97.8 575.8,121.6 576.0,108.6 576.2,103.7 576.4,110.8 576.6,106.7 576.8,114.6 577.0,111.6 577.2,136.9 577.4,130.7 577.6,115.0 577.8,141.3 578.0,111.1 578.2,123.0 578.4,110.3 578.6,111.2 578.8,131.3 579.0,167.6 579.2,147.2 579.4,127.3 579.6,98.4 579.8,124.5 580.0,114.4 580.2,127.6 580.4,169.8 580.6,119.2 580.8,136.2 581.0,158.1 581.2,124.9 581.4,133.0 581.6,100.8 581.8,162.0 581.9,140.2 582.1,125.1 582.3,127.7 582.5,112.7 582.7,109.0 582.9,114.7 583.1,129.1 583.3,141.9 583.5,127.9 583.7,115.4 583.9,129.3 584.1,161.0 584.3,106.2 584.5,141.1 584.7,115.2 584.9,141.9 585.1,118.7 585.3,141.3 585.5,114.1 585.7,119.1 585.9,147.2 586.1,186.2 586.3,140.4 586.5,159.3 586.7,132.8 586.9,140.6 587.1,152.0 587.3,163.1 587.5,162.4 587.7,126.4 587.9,132.4 588.1,152.7 588.3,144.7 588.5,139.8 588.7,157.4 588.9,188.7 589.1,133.4 589.3,165.2 589.5,161.6 589.7,146.7 589.9,162.7 590.1,161.4 590.2,139.9 590.4,158.8 590.6,149.0 590.8,144.9 591.0,118.2 591.2,160.4 591.4,151.9 591.6,158.4 591.8,132.9 592.0,141.1 592.2,148.6 592.4,124.7 592.6,149.7 592.8,146.8 593.0,170.6 593.2,176.8 593.4,154.9 593.6,147.4 593.8,161.5 594.0,160.8 594.2,130.5 594.4,152.3 594.6,153.8 594.8,148.1 595.0,159.2 595.2,123.1 595.4,110.8 595.6,120.1 595.8,111.0 596.0,168.8 596.2,125.4 596.4,146.8 596.6,121.4 596.8,156.8 597.0,137.9 597.2,122.1 597.4,140.2 597.6,147.5 597.8,156.5 598.0,146.8 598.2,153.2 598.3,171.8 598.5,143.2 598.7,117.4 598.9,137.3 599.1,128.1 599.3,132.8 599.5,150.8 599.7,157.4 599.9,169.2 600.1,154.6 600.3,155.4 600.5,172.3 600.7,161.4 600.9,135.2 601.1,160.9 601.3,140.1 601.5,145.6 601.7,158.1 601.9,134.3 602.1,137.4 602.3,150.0 602.5,141.4 602.7,135.1 602.9,132.2 603.1,136.7 603.3,131.0 603.5,157.4 603.7,122.4 603.9,152.9 604.1,153.6 604.3,129.2 604.5,133.6 604.7,181.9 604.9,150.1 605.1,137.1 605.3,146.8 605.5,192.8 605.7,170.3 605.9,169.1 606.1,162.3 606.3,171.6 606.5,180.8 606.6,189.9 606.8,199.0 607.0,190.0 607.2,189.1 607.4,171.7 607.6,162.5 607.8,149.8 608.0,154.6 608.2,152.7 608.4,145.6 608.6,170.7 608.8,142.8 609.0,157.9 609.2,154.3 609.4,198.5 609.6,176.3 609.8,155.9 610.0,160.9 610.2,137.1 610.4,174.5 610.6,124.3 610.8,134.9 611.0,145.3 611.2,158.9 611.4,162.5 611.6,168.0 611.8,160.1 612.0,146.1 612.2,138.8 612.4,138.6 612.6,135.3 612.8,140.1 613.0,164.9 613.2,160.3 613.4,137.9 613.6,163.7 613.8,135.2 614.0,145.0 614.2,168.5 614.4,141.2 614.6,145.9 614.8,165.1 614.9,185.0 615.1,149.4 615.3,145.9 615.5,143.6 615.7,143.8 615.9,157.5 616.1,170.1 616.3,151.3 616.5,135.6 616.7,150.5 616.9,161.7 617.1,166.8 617.3,177.5 617.5,142.1 617.7,143.0 617.9,175.0 618.1,157.8 618.3,132.0 618.5,176.9 618.7,132.9 618.9,134.3 619.1,141.8 619.3,141.9 619.5,143.3 619.7,138.9 619.9,122.8 620.1,159.6 620.3,169.8 620.5,169.8 620.7,142.1 620.9,132.3 621.1,158.6 621.3,148.7 621.5,149.3 621.7,133.7 621.9,140.7 622.1,146.5 622.3,158.7 622.5,153.8 622.7,137.0 622.9,146.7 623.0,137.9 623.2,156.7 623.4,139.1 623.6,149.1 623.8,147.1 624.0,170.7 624.2,143.7 624.4,164.4 624.6,137.4 624.8,137.7 625.0,156.2 625.2,130.5 625.4,132.8 625.6,131.6 625.8,137.9 626.0,157.1 626.2,134.2 626.4,168.8 626.6,155.3 626.8,145.0 627.0,168.7 627.2,138.6 627.4,151.4 627.6,160.1 627.8,184.0 628.0,167.3 628.2,151.9 628.4,153.1 628.6,171.6 628.8,176.0 629.0,158.6 629.2,172.1 629.4,175.0 629.6,139.2 629.8,154.9 630.0,150.0 630.2,158.8 630.4,146.4 630.6,142.1 630.8,155.7 631.0,160.7 631.2,160.2 631.3,143.7 631.5,154.9 631.7,175.7 631.9,142.6 632.1,159.6 632.3,154.0 632.5,138.8 632.7,154.3 632.9,152.5 633.1,163.4 633.3,151.6 633.5,145.6 633.7,150.1 633.9,162.9 634.1,162.2 634.3,162.1 634.5,153.0 634.7,164.9 634.9,149.3 635.1,160.1 635.3,135.9 635.5,147.6 635.7,162.5 635.9,147.8 636.1,167.0 636.3,118.4 636.5,155.2 636.7,149.0 636.9,131.2 637.1,165.2 637.3,172.9 637.5,180.5 637.7,188.1 637.9,195.6 638.1,188.1 638.3,180.5 638.5,172.9 638.7,165.2 638.9,151.8 639.1,158.9 639.3,170.1 639.5,171.8 639.6,154.8 639.8,189.7 640.0,181.9 640.2,179.6 640.4,159.7 640.6,180.7 640.8,162.8 641.0,130.4 641.2,162.5 641.4,138.4 641.6,160.0 641.8,178.5 642.0,167.9 642.2,175.6 642.4,162.2 642.6,156.1 642.8,164.1 643.0,166.6 643.2,170.0 643.4,166.6 643.6,169.1 643.8,167.7 644.0,121.4 644.2,144.3 644.4,171.8 644.6,154.9 644.8,150.0 645.0,156.9 645.2,167.5 645.4,151.2 645.6,148.7 645.8,146.3 646.0,135.7 646.2,166.2 646.4,159.7 646.6,166.1 646.8,166.1 647.0,161.3 647.2,149.2 647.4,158.9 647.6,161.3 647.7,161.6 647.9,147.3 648.1,130.6 648.3,133.2 648.5,174.0 648.7,156.4 648.9,145.7 649.1,160.6 649.3,159.4 649.5,165.8 649.7,147.2 649.9,152.8 650.1,158.5 650.3,133.7 650.5,124.8 650.7,135.4 650.9,159.7 651.1,136.6 651.3,124.6 651.5,120.7 651.7,121.8 651.9,118.6 652.1,132.4 652.3,121.6 652.5,123.0 652.7,131.4 652.9,125.1 653.1,145.4 653.3,122.3 653.5,158.4 653.7,166.0 653.9,173.6 654.1,181.2 654.3,188.9 654.5,181.2 654.7,173.4 654.9,165.6 655.1,157.7 655.3,146.2 655.5,176.3 655.7,157.5 655.9,152.1 656.0,165.1 656.2,149.6 656.4,142.2 656.6,123.2 656.8,140.4 657.0,119.9 657.2,171.0 657.4,127.9 657.6,151.2 657.8,125.2 658.0,110.3 658.2,128.0 658.4,138.3 658.6,124.1 658.8,153.4 659.0,124.9 659.2,136.5 659.4,134.4 659.6,150.9 659.8,135.5 660.0,133.7 660.2,144.6 660.4,141.8 660.6,164.5 660.8,135.7 661.0,153.1 661.2,146.4 661.4,162.0 661.6,157.0 661.8,159.7 662.0,129.3 662.2,136.7 662.4,128.4 662.6,120.1 662.8,111.9 663.0,103.7 663.2,111.8 663.4,119.9 663.6,127.0 663.8,127.0 664.0,147.7 664.2,150.0 664.3,117.6 664.5,162.3 664.7,129.8 664.9,123.8 665.1,121.0 665.3,116.6 665.5,117.9 665.7,104.7 665.9,154.5 666.1,132.7 666.3,125.2 666.5,157.9 666.7,138.9 666.9,115.7 667.1,146.3 667.3,122.3 667.5,127.2 667.7,117.2 667.9,124.3 668.1,121.2 668.3,122.4" fill="none" stroke="#000" stroke-width="1.6" stroke-linejoin="miter" stroke-miterlimit="1.5"/><polyline points="75.7,166.5 75.9,196.3 76.1,178.9 76.3,187.0 76.5,193.6 76.7,175.7 76.9,186.9 77.1,175.5 77.3,185.5 77.5,162.0 77.7,143.6 77.9,182.8 78.1,175.9 78.3,178.5 78.5,171.8 78.7,185.1 78.9,209.1 79.1,198.1 79.3,204.3 79.5,210.8 79.7,204.0 79.8,197.0 80.0,189.7 80.2,182.1 80.4,179.0 80.6,170.3 80.8,161.5 81.0,169.8 81.2,158.0 81.4,175.2 81.6,185.9 81.8,148.7 82.0,167.5 82.2,143.8 82.4,180.5 82.6,155.7 82.8,139.2 83.0,142.5 83.2,162.6 83.4,173.1 83.6,172.0 83.8,159.7 84.0,173.2 84.2,173.4 84.4,178.5 84.6,175.3 84.8,158.1 85.0,182.8 85.2,160.9 85.4,149.5 85.6,169.8 85.8,174.0 86.0,159.8 86.2,156.8 86.4,142.2 86.6,182.1 86.8,146.9 87.0,125.4 87.2,146.3 87.4,124.7 87.6,118.4 87.8,158.2 88.0,129.2 88.1,144.3 88.3,150.4 88.5,158.1 88.7,162.2 88.9,180.0 89.1,164.4 89.3,147.4 89.5,137.3 89.7,161.6 89.9,150.4 90.1,149.4 90.3,191.7 90.5,150.0 90.7,181.3 90.9,173.8 91.1,143.2 91.3,129.5 91.5,171.5 91.7,170.3 91.9,168.2 92.1,162.4 92.3,162.6 92.5,169.4 92.7,183.7 92.9,133.0 93.1,162.3 93.3,168.6 93.5,139.7 93.7,160.2 93.9,138.6 94.1,145.5 94.3,143.0 94.5,162.6 94.7,148.7 94.9,182.0 95.1,180.8 95.3,161.0 95.5,169.9 95.7,143.9 95.9,165.2 96.1,183.7 96.3,151.3 96.4,147.0 96.6,137.1 96.8,160.1 97.0,146.1 97.2,135.2 97.4,119.1 97.6,126.1 97.8,113.1 98.0,100.7 98.2,88.7 98.4,77.1 98.6,88.2 98.8,98.8 99.0,109.0 99.2,118.6 99.4,127.2 99.6,152.7 99.8,123.6 100.0,103.8 100.2,102.2 100.4,155.8 100.6,121.3 100.8,151.9 101.0,107.1 101.2,119.1 101.4,115.2 101.6,136.6 101.8,153.4 102.0,139.7 102.2,124.3 102.4,145.4 102.6,128.1 102.8,80.8 103.0,131.1 103.2,103.0 103.4,145.5 103.6,109.4 103.8,100.8 104.0,105.3 104.2,98.5 104.4,86.5 104.5,139.2 104.7,106.9 104.9,103.8 105.1,101.4 105.3,88.0 105.5,106.8 105.7,95.2 105.9,97.2 106.1,112.3 106.3,106.7 106.5,125.7 106.7,106.0 106.9,105.5 107.1,103.7 107.3,97.1 107.5,90.5 107.7,84.0 107.9,77.6 108.1,84.0 108.3,90.4 108.5,96.9 108.7,101.2 108.9,110.2 109.1,110.1 109.3,130.7 109.5,104.6 109.7,108.1 109.9,121.2 110.1,120.6 110.3,113.1 110.5,134.4 110.7,122.5 110.9,98.5 111.1,123.3 111.3,78.7 111.5,133.4 111.7,101.7 111.9,101.1 112.1,100.4 112.3,103.6 112.5,131.4 112.7,94.5 112.8,93.9 113.0,114.2 113.2,145.8 113.4,96.3 113.6,124.1 113.8,117.3 114.0,95.0 114.2,88.1 114.4,100.7 114.6,117.0 114.8,82.6 115.0,96.0 115.2,112.1 115.4,124.7 115.6,105.4 115.8,129.9 116.0,84.8 116.2,101.0 116.4,117.6 116.6,113.2 116.8,141.0 117.0,115.8 117.2,122.8 117.4,134.8 117.6,123.0 117.8,108.1 118.0,130.2 118.2,113.6 118.4,132.8 118.6,108.2 118.8,129.9 119.0,102.2 119.2,96.7 119.4,93.2 119.6,82.9 119.8,109.7 120.0,108.8 120.2,101.4 120.4,117.2 120.6,140.7 120.8,128.9 121.0,130.6 121.1,114.0 121.3,116.7 121.5,108.4 121.7,94.5 121.9,101.6 122.1,79.9 122.3,110.8 122.5,122.2 122.7,96.9 122.9,121.8 123.1,106.1 123.3,96.8 123.5,87.5 123.7,78.1 123.9,68.7 124.1,78.1 124.3,87.6 124.5,97.1 124.7,106.6 124.9,123.5 125.1,103.3 125.3,102.6 125.5,120.5 125.7,123.2 125.9,133.8 126.1,112.0 126.3,117.2 126.5,108.2 126.7,137.9 126.9,113.2 127.1,120.5 127.3,116.6 127.5,111.5 127.7,126.2 127.9,130.8 128.1,120.3 128.3,142.6 128.5,114.5 128.7,129.8 128.9,147.6 129.1,120.4 129.2,123.4 129.4,115.4 129.6,116.5 129.8,119.4 130.0,125.3 130.2,134.3 130.4,115.3 130.6,113.0 130.8,122.7 131.0,114.5 131.2,128.8 131.4,104.9 131.6,121.3 131.8,121.5 132.0,133.0 132.2,118.2 132.4,128.7 132.6,138.4 132.8,125.1 133.0,130.2 133.2,108.5 133.4,138.5 133.6,131.1 133.8,94.0 134.0,122.3 134.2,113.6 134.4,128.7 134.6,122.8 134.8,91.7 135.0,141.5 135.2,109.9 135.4,114.3 135.6,116.7 135.8,122.4 136.0,121.1 136.2,94.9 136.4,105.5 136.6,129.1 136.8,110.6 137.0,126.2 137.2,81.9 137.4,105.0 137.5,131.1 137.7,98.8 137.9,102.6 138.1,96.0 138.3,89.3 138.5,82.6 138.7,89.4 138.9,96.2 139.1,102.4 139.3,92.5 139.5,114.0 139.7,111.9 139.9,139.4 140.1,124.2 140.3,138.1 140.5,136.4 140.7,111.4 140.9,101.7 141.1,125.0 141.3,94.3 141.5,112.5 141.7,151.0 141.9,127.0 142.1,108.5 142.3,122.1 142.5,108.8 142.7,142.6 142.9,100.5 143.1,132.0 143.3,116.0 143.5,98.2 143.7,120.4 143.9,124.4 144.1,109.1 144.3,127.7 144.5,124.8 144.7,96.9 144.9,130.1 145.1,126.5 145.3,84.6 145.5,128.1 145.7,101.7 145.8,89.8 146.0,103.1 146.2,118.1 146.4,92.2 146.6,120.2 146.8,78.8 147.0,78.8 147.2,124.1 147.4,103.2 147.6,105.3 147.8,94.1 148.0,83.0 148.2,72.1 148.4,61.1 148.6,72.2 148.8,83.3 149.0,94.4 149.2,105.6 149.4,112.6 149.6,124.7 149.8,108.8 150.0,100.4 150.2,92.0 150.4,83.5 150.6,75.0 150.8,83.6 151.0,92.2 151.2,100.9 151.4,109.6 151.6,130.2 151.8,143.6 152.0,129.8 152.2,98.2 152.4,135.7 152.6,105.6 152.8,116.4 153.0,94.6 153.2,95.6 153.4,107.4 153.6,96.6 153.8,111.3 153.9,134.2 154.1,114.9 154.3,110.8 154.5,117.4 154.7,116.3 154.9,120.8 155.1,109.6 155.3,121.7 155.5,139.1 155.7,121.3 155.9,97.2 156.1,114.4 156.3,104.3 156.5,124.8 156.7,138.5 156.9,145.6 157.1,125.7 157.3,114.3 157.5,116.5 157.7,118.2 157.9,138.4 158.1,130.1 158.3,138.1 158.5,119.4 158.7,121.4 158.9,138.3 159.1,129.2 159.3,163.8 159.5,125.7 159.7,149.5 159.9,142.1 160.1,126.2 160.3,127.2 160.5,136.2 160.7,105.1 160.9,98.1 161.1,106.8 161.3,109.7 161.5,123.5 161.7,105.5 161.9,134.3 162.1,134.3 162.2,119.3 162.4,114.7 162.6,133.6 162.8,86.0 163.0,136.0 163.2,148.7 163.4,130.5 163.6,104.2 163.8,119.0 164.0,127.7 164.2,134.2 164.4,129.2 164.6,132.5 164.8,130.2 165.0,138.6 165.2,161.9 165.4,125.1 165.6,150.2 165.8,140.7 166.0,140.4 166.2,128.1 166.4,155.2 166.6,131.0 166.8,127.2 167.0,139.8 167.2,138.7 167.4,133.3 167.6,153.1 167.8,141.4 168.0,149.5 168.2,114.9 168.4,148.1 168.6,146.7 168.8,127.3 169.0,111.2 169.2,127.4 169.4,133.5 169.6,114.7 169.8,107.6 170.0,142.4 170.2,107.4 170.4,147.9 170.5,111.4 170.7,127.5 170.9,123.0 171.1,105.8 171.3,93.0 171.5,83.5 171.7,95.8 171.9,110.0 172.1,142.2 172.3,130.4 172.5,120.3 172.7,132.2 172.9,119.0 173.1,128.8 173.3,101.8 173.5,132.4 173.7,148.3 173.9,135.5 174.1,145.8 174.3,128.0 174.5,116.4 174.7,122.2 174.9,124.0 175.1,150.0 175.3,150.8 175.5,147.2 175.7,131.7 175.9,134.3 176.1,125.9 176.3,112.8 176.5,128.4 176.7,105.0 176.9,146.6 177.1,121.1 177.3,132.9 177.5,117.5 177.7,137.1 177.9,138.1 178.1,128.8 178.3,141.2 178.5,147.1 178.6,121.5 178.8,142.7 179.0,111.5 179.2,94.6 179.4,115.3 179.6,105.2 179.8,95.2 180.0,85.1 180.2,75.0 180.4,85.2 180.6,95.5 180.8,105.8 181.0,116.3 181.2,155.6 181.4,121.8 181.6,125.2 181.8,114.6 182.0,122.5 182.2,144.5 182.4,117.1 182.6,110.5 182.8,127.8 183.0,115.1 183.2,118.7 183.4,164.7 183.6,127.1 183.8,169.2 184.0,160.7 184.2,143.7 184.4,156.8 184.6,152.5 184.8,115.2 185.0,149.3 185.2,118.6 185.4,107.9 185.6,116.6 185.8,154.5 186.0,163.5 186.2,140.6 186.4,109.8 186.6,148.0 186.8,159.0 186.9,153.4 187.1,138.9 187.3,127.2 187.5,146.1 187.7,148.7 187.9,136.4 188.1,141.3 188.3,142.3 188.5,161.3 188.7,132.0 188.9,138.8 189.1,128.1 189.3,131.3 189.5,140.6 189.7,123.8 189.9,116.8 190.1,128.5 190.3,148.1 190.5,136.1 190.7,127.6 190.9,140.7 191.1,125.2 191.3,159.2 191.5,141.1 191.7,117.6 191.9,119.8 192.1,133.2 192.3,130.7 192.5,93.7 192.7,117.5 192.9,153.9 193.1,136.7 193.3,143.7 193.5,149.7 193.7,121.0 193.9,109.9 194.1,99.0 194.3,88.1 194.5,77.1 194.7,88.2 194.9,99.3 195.0,110.4 195.2,113.0 195.4,107.1 195.6,131.7 195.8,130.9 196.0,141.2 196.2,138.0 196.4,107.6 196.6,157.2 196.8,170.3 197.0,111.5 197.2,101.1 197.4,171.4 197.6,128.5 197.8,129.3 198.0,148.1 198.2,155.3 198.4,143.2 198.6,144.1 198.8,124.3 199.0,141.8 199.2,102.3 199.4,133.9 199.6,102.3 199.8,112.2 200.0,109.7 200.2,136.8 200.4,138.4 200.6,130.7 200.8,112.6 201.0,147.2 201.2,150.8 201.4,145.9 201.6,136.1 201.8,144.1 202.0,147.0 202.2,163.6 202.4,154.7 202.6,158.7 202.8,122.6 203.0,140.2 203.2,131.7 203.3,160.2 203.5,138.6 203.7,132.8 203.9,153.1 204.1,147.5 204.3,144.8 204.5,133.7 204.7,134.4 204.9,159.7 205.1,135.3 205.3,139.1 205.5,137.5 205.7,151.7 205.9,141.1 206.1,124.9 206.3,129.0 206.5,147.1 206.7,115.8 206.9,145.7 207.1,154.3 207.3,123.2 207.5,129.6 207.7,106.0 207.9,134.5 208.1,134.7 208.3,127.5 208.5,131.7 208.7,145.4 208.9,142.5 209.1,140.5 209.3,137.5 209.5,139.5 209.7,157.7 209.9,123.0 210.1,143.5 210.3,142.7 210.5,149.8 210.7,143.6 210.9,125.1 211.1,121.2 211.3,135.5 211.5,131.0 211.6,141.6 211.8,137.6 212.0,129.7 212.2,133.0 212.4,143.7 212.6,129.4 212.8,144.4 213.0,109.2 213.2,132.6 213.4,144.6 213.6,132.1 213.8,147.3 214.0,142.9 214.2,116.2 214.4,115.4 214.6,153.8 214.8,153.0 215.0,147.3 215.2,118.9 215.4,145.4 215.6,144.2 215.8,154.6 216.0,132.2 216.2,132.9 216.4,163.2 216.6,150.7 216.8,160.8 217.0,152.3 217.2,147.2 217.4,155.5 217.6,146.2 217.8,131.2 218.0,124.3 218.2,134.2 218.4,125.6 218.6,147.7 218.8,106.3 219.0,102.5 219.2,131.9 219.4,124.8 219.6,128.4 219.7,161.5 219.9,123.3 220.1,129.8 220.3,155.3 220.5,141.4 220.7,124.0 220.9,135.8 221.1,154.3 221.3,145.0 221.5,147.7 221.7,136.4 221.9,146.7 222.1,142.5 222.3,141.5 222.5,158.7 222.7,137.2 222.9,137.3 223.1,143.1 223.3,124.1 223.5,106.5 223.7,149.0 223.9,130.0 224.1,120.5 224.3,124.8 224.5,130.1 224.7,102.4 224.9,128.8 225.1,126.0 225.3,132.7 225.5,113.5 225.7,148.1 225.9,134.3 226.1,127.5 226.3,116.5 226.5,115.5 226.7,114.6 226.9,130.7 227.1,136.9 227.3,129.7 227.5,133.3 227.7,121.3 227.9,115.5 228.0,109.6 228.2,103.7 228.4,97.8 228.6,103.7 228.8,109.7 229.0,115.7 229.2,121.9 229.4,121.8 229.6,128.8 229.8,144.7 230.0,109.4 230.2,136.5 230.4,103.8 230.6,125.2 230.8,127.5 231.0,149.4 231.2,127.9 231.4,136.5 231.6,145.6 231.8,130.9 232.0,125.4 232.2,124.3 232.4,155.1 232.6,148.5 232.8,128.9 233.0,137.6 233.2,136.3 233.4,157.4 233.6,148.8 233.8,146.5 234.0,173.2 234.2,166.1 234.4,150.1 234.6,135.4 234.8,161.7 235.0,148.8 235.2,170.7 235.4,171.9 235.6,151.4 235.8,172.5 236.0,158.4 236.2,166.2 236.3,149.5 236.5,171.6 236.7,172.7 236.9,174.0 237.1,156.0 237.3,135.6 237.5,142.6 237.7,150.6 237.9,152.5 238.1,134.2 238.3,151.6 238.5,140.5 238.7,136.7 238.9,151.0 239.1,152.2 239.3,154.8 239.5,156.8 239.7,143.7 239.9,160.1 240.1,156.4 240.3,125.7 240.5,149.1 240.7,171.4 240.9,132.6 241.1,129.1 241.3,139.3 241.5,164.2 241.7,127.8 241.9,138.6 242.1,132.6 242.3,149.9 242.5,140.6 242.7,145.8 242.9,145.9 243.1,157.7 243.3,153.5 243.5,154.8 243.7,146.3 243.9,133.0 244.1,135.4 244.3,167.9 244.4,134.4 244.6,163.1 244.8,137.0 245.0,141.4 245.2,140.5 245.4,146.6 245.6,155.5 245.8,120.6 246.0,172.8 246.2,151.4 246.4,120.2 246.6,135.1 246.8,139.8 247.0,147.8 247.2,149.9 247.4,130.8 247.6,142.6 247.8,135.6 248.0,128.0 248.2,161.1 248.4,156.9 248.6,151.1 248.8,138.6 249.0,125.2 249.2,151.9 249.4,133.7 249.6,127.6 249.8,127.5 250.0,100.8 250.2,132.6 250.4,118.4 250.6,155.6 250.8,126.1 251.0,126.8 251.2,123.9 251.4,141.9 251.6,144.8 251.8,152.2 252.0,138.4 252.2,98.4 252.4,156.8 252.6,156.4 252.7,136.4 252.9,150.3 253.1,119.2 253.3,158.5 253.5,117.0 253.7,152.7 253.9,170.2 254.1,176.6 254.3,153.1 254.5,145.8 254.7,126.9 254.9,149.7 255.1,97.1 255.3,117.4 255.5,130.6 255.7,133.7 255.9,97.1 256.1,129.7 256.3,113.2 256.5,99.5 256.7,137.5 256.9,117.0 257.1,134.1 257.3,110.6 257.5,106.0 257.7,117.9 257.9,126.0 258.1,146.2 258.3,97.1 258.5,107.5 258.7,120.5 258.9,112.2 259.1,135.6 259.3,153.3 259.5,122.9 259.7,153.1 259.9,147.0 260.1,127.1 260.3,153.2 260.5,128.7 260.7,143.2 260.9,156.8 261.0,158.6 261.2,144.0 261.4,140.6 261.6,132.8 261.8,161.8 262.0,140.2 262.2,157.5 262.4,150.6 262.6,124.6 262.8,148.9 263.0,144.2 263.2,155.9 263.4,148.9 263.6,140.7 263.8,152.2 264.0,145.5 264.2,176.7 264.4,157.1 264.6,168.7 264.8,165.7 265.0,182.3 265.2,181.4 265.4,168.2 265.6,185.5 265.8,161.7 266.0,179.5 266.2,166.1 266.4,185.8 266.6,189.8 266.8,168.3 267.0,172.1 267.2,180.9 267.4,173.3 267.6,177.2 267.8,169.9 268.0,174.4 268.2,185.4 268.4,190.8 268.6,196.0 268.8,200.9 269.0,205.7 269.1,201.0 269.3,196.2 269.5,191.2 269.7,186.2 269.9,172.2 270.1,184.2 270.3,201.3 270.5,187.4 270.7,172.2 270.9,166.9 271.1,196.3 271.3,176.6 271.5,166.3 271.7,191.4 271.9,155.9 272.1,183.0 272.3,187.9 272.5,193.3 272.7,199.2 272.9,205.7 273.1,198.7 273.3,191.1 273.5,195.0 273.7,178.8 273.9,178.1 274.1,170.2 274.3,191.4 274.5,150.4 274.7,151.3 274.9,136.0 275.1,162.6 275.3,155.4 275.5,168.1 275.7,140.9 275.9,152.7 276.1,127.6 276.3,139.5 276.5,141.6 276.7,143.8 276.9,171.6 277.1,144.2 277.3,175.0 277.4,147.9 277.6,140.9 277.8,165.9 278.0,157.5 278.2,148.7 278.4,142.6 278.6,146.5 278.8,155.2 279.0,163.7 279.2,145.4 279.4,115.4 279.6,157.6 279.8,124.8 280.0,157.2 280.2,150.1 280.4,125.2 280.6,136.7 280.8,124.3 281.0,141.6 281.2,154.9 281.4,143.5 281.6,149.8 281.8,125.8 282.0,132.5 282.2,122.6 282.4,145.7 282.6,139.6 282.8,143.4 283.0,139.4 283.2,136.0 283.4,118.4 283.6,134.0 283.8,120.6 284.0,127.2 284.2,153.5 284.4,149.8 284.6,137.7 284.8,124.2 285.0,144.5 285.2,162.9 285.4,141.9 285.6,149.4 285.7,142.4 285.9,139.5 286.1,147.4 286.3,162.5 286.5,165.8 286.7,155.8 286.9,151.6 287.1,143.2 287.3,155.1 287.5,153.1 287.7,141.1 287.9,135.0 288.1,139.9 288.3,157.4 288.5,146.9 288.7,118.4 288.9,164.1 289.1,154.9 289.3,139.8 289.5,161.7 289.7,152.7 289.9,129.8 290.1,132.6 290.3,167.7 290.5,136.5 290.7,149.4 290.9,164.4 291.1,127.1 291.3,152.6 291.5,146.9 291.7,154.4 291.9,132.3 292.1,127.2 292.3,127.6 292.5,111.1 292.7,134.9 292.9,150.8 293.1,137.1 293.3,135.6 293.5,132.2 293.7,170.0 293.8,130.8 294.0,120.3 294.2,135.8 294.4,158.7 294.6,125.0 294.8,141.1 295.0,122.6 295.2,132.1 295.4,149.1 295.6,165.0 295.8,142.2 296.0,135.4 296.2,154.8 296.4,167.9 296.6,139.2 296.8,161.1 297.0,134.3 297.2,155.2 297.4,149.0 297.6,157.3 297.8,147.9 298.0,146.1 298.2,179.5 298.4,162.3 298.6,161.9 298.8,159.8 299.0,152.8 299.2,140.8 299.4,163.7 299.6,148.4 299.8,159.8 300.0,166.3 300.2,174.8 300.4,165.0 300.6,168.0 300.8,151.3 301.0,140.9 301.2,152.5 301.4,148.2 301.6,168.7 301.8,146.7 302.0,163.9 302.1,159.6 302.3,143.8 302.5,155.6 302.7,139.8 302.9,145.2 303.1,149.3 303.3,151.5 303.5,144.7 303.7,159.4 303.9,166.7 304.1,173.8 304.3,181.0 304.5,188.0 304.7,181.0 304.9,174.1 305.1,167.2 305.3,160.3 305.5,139.0 305.7,172.5 305.9,171.2 306.1,164.6 306.3,168.1 306.5,163.0 306.7,145.0 306.9,135.4 307.1,162.4 307.3,154.4 307.5,148.0 307.7,150.2 307.9,152.0 308.1,147.3 308.3,155.0 308.5,167.2 308.7,156.5 308.9,169.0 309.1,167.0 309.3,160.7 309.5,178.1 309.7,157.0 309.9,171.5 310.1,171.7 310.3,153.9 310.4,151.5 310.6,147.5 310.8,147.8 311.0,173.0 311.2,163.8 311.4,170.4 311.6,170.6 311.8,149.5 312.0,156.6 312.2,155.4 312.4,149.8 312.6,162.2 312.8,145.5 313.0,167.6 313.2,150.6 313.4,166.3 313.6,167.4 313.8,133.3 314.0,157.7 314.2,143.9 314.4,160.3 314.6,156.5 314.8,127.9 315.0,137.1 315.2,137.1 315.4,129.6 315.6,127.8 315.8,124.0 316.0,131.0 316.2,130.2 316.4,133.8 316.6,135.9 316.8,120.8 317.0,163.5 317.2,128.3 317.4,139.3 317.6,137.5 317.8,139.3 318.0,147.7 318.2,129.3 318.4,124.3 318.5,114.1 318.7,104.2 318.9,94.4 319.1,84.7 319.3,94.3 319.5,103.9 319.7,113.4 319.9,123.0 320.1,155.3 320.3,140.7 320.5,138.1 320.7,136.9 320.9,129.4 321.1,115.8 321.3,142.4 321.5,144.3 321.7,150.1 321.9,135.5 322.1,148.3 322.3,141.6 322.5,138.5 322.7,147.6 322.9,146.2 323.1,143.7 323.3,144.3 323.5,139.3 323.7,144.9 323.9,144.2 324.1,128.8 324.3,150.6 324.5,138.9 324.7,139.2 324.9,124.9 325.1,149.2 325.3,142.3 325.5,142.0 325.7,129.0 325.9,127.3 326.1,128.9 326.3,129.8 326.5,102.2 326.7,123.9 326.8,151.4 327.0,146.6 327.2,149.2 327.4,140.6 327.6,154.2 327.8,139.1 328.0,151.5 328.2,134.4 328.4,142.8 328.6,127.6 328.8,135.8 329.0,148.8 329.2,119.2 329.4,147.3 329.6,139.1 329.8,147.2 330.0,119.0 330.2,118.0 330.4,126.1 330.6,153.4 330.8,123.7 331.0,114.2 331.2,140.2 331.4,125.7 331.6,119.3 331.8,126.9 332.0,138.7 332.2,127.2 332.4,134.0 332.6,119.6 332.8,146.1 333.0,123.4 333.2,131.5 333.4,147.0 333.6,144.9 333.8,125.7 334.0,121.3 334.2,124.8 334.4,104.3 334.6,133.6 334.8,144.5 335.0,133.0 335.1,137.2 335.3,156.3 335.5,123.5 335.7,148.0 335.9,145.7 336.1,116.2 336.3,139.8 336.5,141.9 336.7,127.1 336.9,111.9 337.1,146.7 337.3,143.2 337.5,139.2 337.7,130.8 337.9,132.1 338.1,119.0 338.3,141.0 338.5,128.4 338.7,114.7 338.9,149.3 339.1,120.2 339.3,140.0 339.5,130.0 339.7,143.8 339.9,128.2 340.1,124.6 340.3,129.7 340.5,112.5 340.7,137.5 340.9,121.2 341.1,143.7 341.3,125.8 341.5,124.6 341.7,138.6 341.9,114.6 342.1,129.0 342.3,142.4 342.5,135.0 342.7,123.8 342.9,134.6 343.1,121.7 343.2,116.2 343.4,122.5 343.6,120.8 343.8,124.9 344.0,121.3 344.2,112.5 344.4,131.2 344.6,128.2 344.8,117.9 345.0,131.9 345.2,116.1 345.4,130.0 345.6,122.5 345.8,132.6 346.0,127.0 346.2,114.3 346.4,132.9 346.6,109.2 346.8,111.2 347.0,119.9 347.2,141.3 347.4,136.9 347.6,123.0 347.8,115.3 348.0,142.2 348.2,127.6 348.4,125.9 348.6,142.9 348.8,125.3 349.0,137.0 349.2,145.7 349.4,112.3 349.6,137.1 349.8,143.4 350.0,139.6 350.2,105.4 350.4,118.5 350.6,124.8 350.8,138.8 351.0,123.2 351.2,117.1 351.4,109.5 351.5,101.9 351.7,94.4 351.9,86.8 352.1,94.3 352.3,101.9 352.5,109.5 352.7,117.1 352.9,131.8 353.1,134.8 353.3,115.0 353.5,138.2 353.7,130.5 353.9,117.3 354.1,144.3 354.3,122.6 354.5,140.3 354.7,131.1 354.9,135.2 355.1,131.6 355.3,154.8 355.5,144.5 355.7,155.0 355.9,138.0 356.1,138.2 356.3,129.7 356.5,113.5 356.7,130.7 356.9,118.8 357.1,111.6 357.3,104.4 357.5,97.1 357.7,89.8 357.9,97.1 358.1,104.5 358.3,112.0 358.5,119.5 358.7,137.4 358.9,140.9 359.1,144.1 359.3,120.3 359.5,136.9 359.7,128.2 359.8,122.4 360.0,132.5 360.2,143.8 360.4,144.1 360.6,140.7 360.8,126.0 361.0,141.0 361.2,137.2 361.4,126.3 361.6,130.0 361.8,127.3 362.0,125.2 362.2,113.7 362.4,135.5 362.6,136.2 362.8,118.3 363.0,139.6 363.2,148.5 363.4,130.7 363.6,142.0 363.8,136.1 364.0,135.7 364.2,145.7 364.4,131.9 364.6,143.0 364.8,126.2 365.0,124.4 365.2,140.5 365.4,129.6 365.6,134.4 365.8,120.0 366.0,135.9 366.2,149.3 366.4,149.5 366.6,129.4 366.8,141.0 367.0,133.3 367.2,147.9 367.4,144.9 367.6,158.8 367.8,137.6 367.9,134.9 368.1,147.8 368.3,136.3 368.5,148.7 368.7,139.4 368.9,147.8 369.1,148.8 369.3,140.1 369.5,161.5 369.7,127.3 369.9,158.8 370.1,163.4 370.3,144.1 370.5,155.8 370.7,143.0 370.9,162.0 371.1,135.0 371.3,140.0 371.5,161.6 371.7,133.1 371.9,155.7 372.1,149.5 372.3,155.3 372.5,148.8 372.7,146.9 372.9,155.6 373.1,152.8 373.3,150.5 373.5,146.8 373.7,161.9 373.9,153.4 374.1,160.9 374.3,150.7 374.5,147.4 374.7,148.2 374.9,151.0 375.1,121.3 375.3,149.9 375.5,131.6 375.7,141.8 375.9,119.0 376.1,123.3 376.2,138.3 376.4,134.5 376.6,147.2 376.8,147.4 377.0,121.9 377.2,130.7 377.4,152.5 377.6,140.4 377.8,152.5 378.0,154.2 378.2,140.0 378.4,137.8 378.6,145.5 378.8,147.2 379.0,155.3 379.2,146.1 379.4,143.3 379.6,148.7 379.8,116.7 380.0,142.2 380.2,141.0 380.4,146.6 380.6,144.5 380.8,143.5 381.0,137.1 381.2,185.3 381.4,137.0 381.6,141.1 381.8,146.0 382.0,161.1 382.2,170.3 382.4,164.7 382.6,142.3 382.8,145.0 383.0,153.8 383.2,145.0 383.4,162.2 383.6,161.8 383.8,139.1 384.0,146.3 384.2,150.3 384.3,146.7 384.5,162.6 384.7,188.0 384.9,162.4 385.1,145.3 385.3,156.9 385.5,148.7 385.7,149.6 385.9,162.7 386.1,144.6 386.3,153.3 386.5,171.3 386.7,139.2 386.9,159.5 387.1,140.9 387.3,138.6 387.5,157.3 387.7,160.7 387.9,142.9 388.1,148.6 388.3,138.5 388.5,155.6 388.7,148.4 388.9,153.2 389.1,143.7 389.3,169.6 389.5,182.8 389.7,152.2 389.9,161.0 390.1,167.3 390.3,140.6 390.5,173.4 390.7,165.8 390.9,154.7 391.1,166.6 391.3,168.8 391.5,159.2 391.7,167.9 391.9,183.4 392.1,178.2 392.3,156.8 392.5,158.7 392.6,180.9 392.8,163.6 393.0,159.0 393.2,159.3 393.4,150.2 393.6,155.2 393.8,166.0 394.0,166.7 394.2,158.9 394.4,177.4 394.6,187.0 394.8,156.1 395.0,153.7 395.2,157.9 395.4,158.2 395.6,185.3 395.8,181.3 396.0,170.8 396.2,143.8 396.4,165.4 396.6,160.1 396.8,171.1 397.0,145.9 397.2,184.4 397.4,135.3 397.6,154.0 397.8,191.7 398.0,147.8 398.2,134.1 398.4,134.2 398.6,136.8 398.8,149.2 399.0,146.3 399.2,136.6 399.4,150.2 399.6,120.7 399.8,164.1 400.0,142.6 400.2,148.8 400.4,165.9 400.6,123.6 400.8,141.9 400.9,158.3 401.1,159.8 401.3,145.7 401.5,116.0 401.7,141.3 401.9,155.4 402.1,136.0 402.3,150.9 402.5,137.7 402.7,142.1 402.9,136.2 403.1,140.9 403.3,146.3 403.5,167.5 403.7,144.5 403.9,131.3 404.1,171.4 404.3,133.0 404.5,157.6 404.7,154.8 404.9,150.4 405.1,131.2 405.3,143.6 405.5,146.3 405.7,170.8 405.9,126.6 406.1,170.3 406.3,139.2 406.5,137.6 406.7,148.7 406.9,181.9 407.1,158.0 407.3,169.4 407.5,131.0 407.7,159.1 407.9,153.5 408.1,158.5 408.3,162.3 408.5,156.4 408.7,131.9 408.9,153.1 409.0,144.0 409.2,151.3 409.4,155.8 409.6,186.2 409.8,171.7 410.0,171.7 410.2,152.7 410.4,198.0 410.6,183.6 410.8,163.7 411.0,154.1 411.2,163.0 411.4,160.5 411.6,150.9 411.8,141.2 412.0,138.2 412.2,153.6 412.4,147.7 412.6,167.9 412.8,175.1 413.0,160.3 413.2,154.1 413.4,167.5 413.6,198.1 413.8,159.8 414.0,145.4 414.2,159.5 414.4,170.3 414.6,179.1 414.8,184.8 415.0,155.0 415.2,176.2 415.4,174.8 415.6,173.8 415.8,169.1 416.0,164.1 416.2,177.4 416.4,168.6 416.6,180.3 416.8,182.4 417.0,190.8 417.2,171.1 417.3,158.0 417.5,164.6 417.7,161.6 417.9,177.8 418.1,180.7 418.3,178.8 418.5,180.1 418.7,157.4 418.9,151.7 419.1,177.8 419.3,171.8 419.5,195.0 419.7,171.3 419.9,165.4 420.1,189.6 420.3,166.3 420.5,184.2 420.7,180.4 420.9,162.1 421.1,201.7 421.3,174.7 421.5,182.7 421.7,153.9 421.9,175.2 422.1,176.0 422.3,171.9 422.5,153.7 422.7,181.1 422.9,182.9 423.1,180.8 423.3,163.4 423.5,197.8 423.7,193.4 423.9,189.7 424.1,192.1 424.3,180.1 424.5,184.1 424.7,198.5 424.9,190.5 425.1,198.4 425.3,206.3 425.5,214.2 425.6,206.3 425.8,198.5 426.0,190.6 426.2,182.7 426.4,171.0 426.6,157.7 426.8,178.7 427.0,186.9 427.2,170.2 427.4,169.5 427.6,192.1 427.8,188.7 428.0,167.7 428.2,185.5 428.4,173.6 428.6,187.6 428.8,161.8 429.0,148.1 429.2,195.9 429.4,182.5 429.6,154.8 429.8,160.9 430.0,161.6 430.2,177.4 430.4,188.2 430.6,174.7 430.8,162.4 431.0,166.3 431.2,145.1 431.4,197.4 431.6,171.1 431.8,172.2 432.0,151.1 432.2,185.5 432.4,155.3 432.6,193.7 432.8,158.5 433.0,185.3 433.2,179.5 433.4,157.5 433.6,166.2 433.7,159.1 433.9,166.4 434.1,175.3 434.3,155.5 434.5,166.7 434.7,172.1 434.9,171.9 435.1,192.4 435.3,183.2 435.5,156.3 435.7,152.3 435.9,155.5 436.1,124.8 436.3,149.8 436.5,153.2 436.7,138.5 436.9,146.9 437.1,134.3 437.3,162.0 437.5,146.4 437.7,153.4 437.9,160.7 438.1,155.6 438.3,137.4 438.5,129.8 438.7,153.6 438.9,155.7 439.1,151.7 439.3,144.1 439.5,152.9 439.7,140.4 439.9,131.7 440.1,141.9 440.3,175.0 440.5,169.4 440.7,168.4 440.9,169.7 441.1,139.7 441.3,170.4 441.5,149.8 441.7,169.6 441.9,170.5 442.0,129.3 442.2,179.4 442.4,123.5 442.6,176.8 442.8,142.5 443.0,143.8 443.2,139.7 443.4,143.8 443.6,160.8 443.8,152.9 444.0,123.2 444.2,128.6 444.4,109.0 444.6,132.7 444.8,142.0 445.0,151.9 445.2,161.7 445.4,134.0 445.6,159.6 445.8,157.7 446.0,159.1 446.2,142.1 446.4,100.7 446.6,153.7 446.8,180.4 447.0,164.9 447.2,140.7 447.4,161.7 447.6,165.7 447.8,140.5 448.0,154.4 448.2,171.9 448.4,150.0 448.6,171.3 448.8,157.3 449.0,121.6 449.2,190.5 449.4,130.9 449.6,179.8 449.8,146.0 450.0,180.9 450.2,150.3 450.3,155.5 450.5,153.8 450.7,158.1 450.9,116.8 451.1,127.0 451.3,167.5 451.5,168.8 451.7,144.7 451.9,170.5 452.1,114.0 452.3,118.9 452.5,131.1 452.7,176.0 452.9,156.6 453.1,121.7 453.3,159.5 453.5,141.4 453.7,152.9 453.9,137.1 454.1,150.4 454.3,147.3 454.5,167.8 454.7,146.0 454.9,157.3 455.1,130.0 455.3,166.8 455.5,128.4 455.7,123.3 455.9,128.2 456.1,167.4 456.3,159.4 456.5,137.4 456.7,139.9 456.9,148.1 457.1,152.3 457.3,168.5 457.5,164.0 457.7,161.9 457.9,157.7 458.1,152.7 458.3,133.3 458.4,122.2 458.6,111.0 458.8,99.8 459.0,88.5 459.2,99.8 459.4,111.1 459.6,122.5 459.8,133.9 460.0,172.6 460.2,178.3 460.4,160.4 460.6,140.6 460.8,146.7 461.0,148.0 461.2,148.0 461.4,156.9 461.6,140.1 461.8,152.2 462.0,158.7 462.2,137.4 462.4,165.0 462.6,148.0 462.8,153.5 463.0,167.6 463.2,132.5 463.4,168.3 463.6,154.6 463.8,163.7 464.0,144.2 464.2,139.5 464.4,130.2 464.6,128.1 464.8,128.9 465.0,152.4 465.2,141.2 465.4,162.6 465.6,170.3 465.8,131.0 466.0,165.6 466.2,146.0 466.4,132.2 466.6,160.3 466.7,134.4 466.9,153.3 467.1,151.3 467.3,145.0 467.5,124.9 467.7,170.3 467.9,151.9 468.1,163.2 468.3,151.3 468.5,145.8 468.7,179.4 468.9,169.9 469.1,132.2 469.3,138.8 469.5,155.0 469.7,139.0 469.9,126.3 470.1,126.4 470.3,170.8 470.5,144.6 470.7,103.9 470.9,132.9 471.1,127.8 471.3,119.5 471.5,113.2 471.7,113.2 471.9,104.4 472.1,95.7 472.3,101.5 472.5,101.6 472.7,114.6 472.9,117.3 473.1,129.8 473.3,115.5 473.5,136.0 473.7,127.1 473.9,125.5 474.1,160.6 474.3,122.5 474.5,144.8 474.7,135.1 474.9,127.2 475.0,125.9 475.2,126.3 475.4,113.8 475.6,141.0 475.8,131.0 476.0,117.9 476.2,131.1 476.4,134.2 476.6,119.1 476.8,112.7 477.0,113.1 477.2,136.2 477.4,120.2 477.6,125.9 477.8,105.1 478.0,126.7 478.2,130.2 478.4,107.4 478.6,132.7 478.8,106.5 479.0,106.8 479.2,125.0 479.4,118.7 479.6,113.7 479.8,98.6 480.0,121.6 480.2,122.0 480.4,118.6 480.6,122.1 480.8,132.3 481.0,123.6 481.2,120.4 481.4,112.7 481.6,114.1 481.8,116.0 482.0,129.5 482.2,110.2 482.4,129.0 482.6,130.4 482.8,128.7 483.0,136.1 483.1,123.3 483.3,119.7 483.5,132.6 483.7,134.8 483.9,125.7 484.1,133.4 484.3,118.0 484.5,109.5 484.7,131.7 484.9,137.7 485.1,122.2 485.3,105.5 485.5,131.8 485.7,108.9 485.9,116.4 486.1,133.2 486.3,124.2 486.5,118.2 486.7,127.6 486.9,102.0 487.1,155.1 487.3,135.4 487.5,138.9 487.7,140.7 487.9,139.4 488.1,129.4 488.3,119.8 488.5,125.4 488.7,115.5 488.9,128.3 489.1,138.4 489.3,132.4 489.5,105.2 489.7,130.3 489.9,129.8 490.1,120.2 490.3,118.6 490.5,129.3 490.7,123.3 490.9,118.9 491.1,116.2 491.3,137.4 491.4,151.5 491.6,144.4 491.8,150.0 492.0,133.8 492.2,117.9 492.4,123.4 492.6,114.8 492.8,95.9 493.0,148.2 493.2,111.1 493.4,118.1 493.6,110.4 493.8,102.6 494.0,94.8 494.2,100.0 494.4,110.5 494.6,104.4 494.8,126.3 495.0,108.3 495.2,120.9 495.4,118.2 495.6,142.6 495.8,124.4 496.0,128.1 496.2,136.7 496.4,130.0 496.6,127.2 496.8,126.3 497.0,145.2 497.2,123.7 497.4,154.8 497.6,154.7 497.8,160.9 498.0,173.8 498.2,107.6 498.4,111.9 498.6,149.2 498.8,152.9 499.0,157.1 499.2,140.7 499.4,147.1 499.6,158.4 499.7,144.8 499.9,166.6 500.1,150.0 500.3,128.0 500.5,134.6 500.7,141.2 500.9,150.4 501.1,122.6 501.3,153.8 501.5,176.7 501.7,156.4 501.9,176.9 502.1,148.9 502.3,155.5 502.5,125.7 502.7,128.7 502.9,155.0 503.1,151.4 503.3,133.9 503.5,159.4 503.7,156.2 503.9,115.6 504.1,150.5 504.3,135.8 504.5,102.4 504.7,139.2 504.9,102.7 505.1,149.5 505.3,135.9 505.5,103.7 505.7,112.9 505.9,126.2 506.1,128.3 506.3,108.4 506.5,100.7 506.7,148.3 506.9,135.4 507.1,110.2 507.3,132.6 507.5,116.9 507.7,146.0 507.8,111.7 508.0,121.1 508.2,126.5 508.4,127.9 508.6,107.0 508.8,156.6 509.0,119.7 509.2,107.9 509.4,96.2 509.6,84.5 509.8,72.9 510.0,84.5 510.2,96.0 510.4,107.6 510.6,119.2 510.8,155.9 511.0,134.6 511.2,136.9 511.4,122.3 511.6,151.6 511.8,123.4 512.0,125.0 512.2,141.8 512.4,151.8 512.6,161.4 512.8,150.9 513.0,129.6 513.2,144.5 513.4,162.8 513.6,125.4 513.8,122.9 514.0,139.1 514.2,147.5 514.4,137.5 514.6,133.3 514.8,132.6 515.0,120.6 515.2,121.1 515.4,110.7 515.6,100.2 515.8,89.7 516.0,79.2 516.1,89.8 516.3,100.3 516.5,111.0 516.7,90.0 516.9,131.5 517.1,124.3 517.3,133.3 517.5,137.5 517.7,138.6 517.9,168.9 518.1,128.6 518.3,143.4 518.5,141.2 518.7,124.0 518.9,142.1 519.1,108.3 519.3,119.3 519.5,128.9 519.7,129.7 519.9,147.5 520.1,97.0 520.3,105.9 520.5,136.4 520.7,138.4 520.9,163.0 521.1,124.8 521.3,135.3 521.5,134.1 521.7,143.9 521.9,138.7 522.1,144.8 522.3,149.3 522.5,152.5 522.7,156.1 522.9,123.3 523.1,117.4 523.3,173.6 523.5,146.9 523.7,158.5 523.9,160.5 524.1,141.4 524.3,172.9 524.4,135.5 524.6,172.6 524.8,144.3 525.0,152.8 525.2,152.8 525.4,146.5 525.6,166.4 525.8,125.3 526.0,171.6 526.2,171.4 526.4,126.7 526.6,119.7 526.8,112.8 527.0,105.9 527.2,99.1 527.4,105.9 527.6,112.6 527.8,119.4 528.0,126.0 528.2,141.2 528.4,145.1 528.6,131.4 528.8,157.1 529.0,142.8 529.2,135.7 529.4,148.3 529.6,122.7 529.8,136.5 530.0,112.7 530.2,137.3 530.4,136.1 530.6,142.3 530.8,123.9 531.0,114.7 531.2,116.4 531.4,109.1 531.6,101.7 531.8,94.4 532.0,101.7 532.2,108.9 532.4,116.3 532.5,123.6 532.7,112.3 532.9,132.5 533.1,143.2 533.3,124.5 533.5,95.2 533.7,119.0 533.9,117.3 534.1,111.4 534.3,136.9 534.5,110.6 534.7,134.1 534.9,149.0 535.1,130.8 535.3,130.4 535.5,114.9 535.7,118.7 535.9,127.4 536.1,110.7 536.3,112.8 536.5,106.0 536.7,137.2 536.9,124.7 537.1,138.2 537.3,127.3 537.5,115.0 537.7,117.2 537.9,131.4 538.1,154.0 538.3,136.8 538.5,125.3 538.7,119.9 538.9,113.2 539.1,114.4 539.3,125.6 539.5,113.9 539.7,137.4 539.9,138.5 540.1,111.1 540.3,120.1 540.5,115.4 540.7,117.8 540.8,121.3 541.0,131.7 541.2,115.6 541.4,122.3 541.6,109.8 541.8,105.7 542.0,119.7 542.2,99.4 542.4,116.6 542.6,103.7 542.8,129.3 543.0,111.8 543.2,136.1 543.4,134.8 543.6,145.7 543.8,132.6 544.0,128.4 544.2,133.4 544.4,104.1 544.6,117.0 544.8,138.2 545.0,124.4 545.2,131.9 545.4,127.0 545.6,131.7 545.8,145.6 546.0,110.4 546.2,118.9 546.4,127.4 546.6,123.5 546.8,133.5 547.0,142.2 547.2,149.1 547.4,134.7 547.6,149.5 547.8,144.3 548.0,150.7 548.2,128.8 548.4,140.3 548.6,134.1 548.8,141.5 549.0,149.3 549.1,132.0 549.3,137.6 549.5,141.7 549.7,125.0 549.9,121.2 550.1,115.9 550.3,124.7 550.5,128.4 550.7,117.0 550.9,134.7 551.1,126.3 551.3,123.6 551.5,146.9 551.7,120.3 551.9,115.4 552.1,123.3 552.3,104.7 552.5,131.3 552.7,111.2 552.9,108.5 553.1,131.7 553.3,127.6 553.5,132.6 553.7,138.4 553.9,141.0 554.1,135.2 554.3,119.7 554.5,141.9 554.7,126.0 554.9,99.0 555.1,119.2 555.3,126.3 555.5,134.1 555.7,159.4 555.9,125.7 556.1,125.0 556.3,139.1 556.5,146.3 556.7,138.1 556.9,144.2 557.1,121.2 557.2,131.2 557.4,119.4 557.6,137.7 557.8,144.3 558.0,159.0 558.2,129.3 558.4,145.7 558.6,114.6 558.8,129.9 559.0,130.1 559.2,149.1 559.4,120.8 559.6,118.7 559.8,112.1 560.0,131.0 560.2,122.9 560.4,121.8 560.6,118.2 560.8,115.5 561.0,129.1 561.2,125.9 561.4,120.3 561.6,111.8 561.8,114.8 562.0,125.8 562.2,132.3 562.4,135.0 562.6,122.1 562.8,139.1 563.0,140.0 563.2,130.3 563.4,134.6 563.6,130.2 563.8,124.8 564.0,129.5 564.2,124.3 564.4,123.7 564.6,132.3 564.8,138.7 565.0,120.6 565.2,128.2 565.4,135.4 565.5,140.0 565.7,129.7 565.9,109.0 566.1,132.4 566.3,124.9 566.5,142.1 566.7,149.9 566.9,127.2 567.1,134.2 567.3,151.9 567.5,123.5 567.7,141.0 567.9,126.9 568.1,129.9 568.3,141.7 568.5,153.2 568.7,130.1 568.9,118.1 569.1,141.3 569.3,166.2 569.5,155.8 569.7,146.4 569.9,172.7 570.1,158.5 570.3,161.8 570.5,150.7 570.7,118.6 570.9,145.7 571.1,124.0 571.3,141.5 571.5,139.3 571.7,146.3 571.9,142.9 572.1,129.6 572.3,133.1 572.5,138.3 572.7,136.0 572.9,165.7 573.1,156.6 573.3,161.5 573.5,151.9 573.6,129.7 573.8,157.6 574.0,155.7 574.2,154.3 574.4,153.4 574.6,136.3 574.8,124.2 575.0,116.2 575.2,135.0 575.4,134.6 575.6,129.5 575.8,152.8 576.0,153.4 576.2,144.2 576.4,140.3 576.6,138.2 576.8,141.8 577.0,147.5 577.2,150.4 577.4,135.7 577.6,146.2 577.8,147.2 578.0,125.7 578.2,137.4 578.4,121.3 578.6,146.2 578.8,118.4 579.0,111.4 579.2,150.1 579.4,151.1 579.6,151.3 579.8,149.4 580.0,142.7 580.2,139.3 580.4,147.1 580.6,140.0 580.8,157.6 581.0,152.1 581.2,137.8 581.4,137.1 581.6,133.6 581.8,130.9 581.9,139.2 582.1,174.3 582.3,164.2 582.5,158.9 582.7,156.5 582.9,150.2 583.1,133.5 583.3,152.0 583.5,183.7 583.7,169.5 583.9,147.6 584.1,139.5 584.3,164.9 584.5,136.6 584.7,147.5 584.9,135.6 585.1,184.9 585.3,155.3 585.5,155.8 585.7,152.7 585.9,165.1 586.1,170.8 586.3,162.0 586.5,171.7 586.7,184.7 586.9,140.2 587.1,160.0 587.3,169.8 587.5,131.2 587.7,150.1 587.9,149.7 588.1,140.7 588.3,162.5 588.5,151.9 588.7,172.3 588.9,151.0 589.1,164.5 589.3,135.9 589.5,151.0 589.7,140.6 589.9,165.2 590.1,165.4 590.2,149.5 590.4,142.1 590.6,161.0 590.8,146.0 591.0,164.7 591.2,147.7 591.4,164.1 591.6,135.1 591.8,155.3 592.0,138.0 592.2,151.3 592.4,146.2 592.6,141.2 592.8,143.1 593.0,124.8 593.2,111.0 593.4,124.6 593.6,147.9 593.8,130.2 594.0,150.5 594.2,109.8 594.4,134.0 594.6,134.3 594.8,127.6 595.0,141.3 595.2,125.4 595.4,129.0 595.6,156.9 595.8,125.7 596.0,147.9 596.2,125.4 596.4,171.2 596.6,109.7 596.8,147.7 597.0,145.5 597.2,121.7 597.4,151.3 597.6,124.0 597.8,170.9 598.0,118.0 598.2,118.9 598.3,130.9 598.5,174.9 598.7,155.9 598.9,165.6 599.1,175.4 599.3,185.4 599.5,195.6 599.7,185.3 599.9,174.8 600.1,164.1 600.3,153.2 600.5,140.3 600.7,148.6 600.9,154.8 601.1,139.7 601.3,145.3 601.5,135.2 601.7,114.4 601.9,170.9 602.1,137.6 602.3,166.3 602.5,140.0 602.7,155.1 602.9,129.6 603.1,112.5 603.3,127.8 603.5,119.0 603.7,110.4 603.9,101.9 604.1,93.6 604.3,101.8 604.5,110.1 604.7,118.3 604.9,126.5 605.1,121.4 605.3,134.0 605.5,114.9 605.7,147.1 605.9,121.1 606.1,131.9 606.3,150.7 606.5,146.9 606.6,136.7 606.8,117.3 607.0,113.9 607.2,126.6 607.4,115.2 607.6,132.5 607.8,145.6 608.0,116.8 608.2,133.4 608.4,150.6 608.6,139.6 608.8,117.6 609.0,114.8 609.2,124.4 609.4,142.5 609.6,127.5 609.8,108.5 610.0,122.4 610.2,109.6 610.4,137.4 610.6,131.6 610.8,120.1 611.0,123.9 611.2,125.9 611.4,150.0 611.6,120.0 611.8,121.8 612.0,133.2 612.2,114.4 612.4,93.4 612.6,128.1 612.8,133.7 613.0,116.5 613.2,90.5 613.4,120.3 613.6,121.1 613.8,124.5 614.0,90.7 614.2,103.9 614.4,101.8 614.6,96.2 614.8,85.1 614.9,74.2 615.1,85.1 615.3,90.1 615.5,107.0 615.7,103.1 615.9,146.8 616.1,150.0 616.3,118.2 616.5,106.5 616.7,101.3 616.9,118.6 617.1,121.0 617.3,93.6 617.5,146.5 617.7,101.4 617.9,116.5 618.1,137.7 618.3,130.2 618.5,102.4 618.7,166.4 618.9,136.1 619.1,155.1 619.3,132.3 619.5,129.4 619.7,121.4 619.9,117.0 620.1,113.3 620.3,123.0 620.5,142.5 620.7,139.9 620.9,115.9 621.1,131.0 621.3,114.6 621.5,113.8 621.7,165.5 621.9,103.1 622.1,116.1 622.3,113.3 622.5,109.9 622.7,113.1 622.9,105.9 623.0,129.2 623.2,120.3 623.4,126.8 623.6,128.6 623.8,126.5 624.0,126.7 624.2,131.2 624.4,134.3 624.6,138.7 624.8,132.9 625.0,140.2 625.2,139.3 625.4,126.2 625.6,125.4 625.8,136.8 626.0,141.8 626.2,156.6 626.4,136.1 626.6,128.8 626.8,137.1 627.0,140.9 627.2,123.9 627.4,129.0 627.6,142.6 627.8,116.6 628.0,118.7 628.2,107.5 628.4,132.1 628.6,142.2 628.8,141.4 629.0,143.3 629.2,150.5 629.4,128.0 629.6,145.0 629.8,163.3 630.0,134.1 630.2,139.6 630.4,133.0 630.6,143.5 630.8,163.8 631.0,122.0 631.2,132.9 631.3,139.5 631.5,138.1 631.7,124.9 631.9,139.6 632.1,143.1 632.3,139.8 632.5,149.7 632.7,128.4 632.9,135.5 633.1,128.3 633.3,144.5 633.5,144.6 633.7,156.9 633.9,142.4 634.1,142.5 634.3,149.0 634.5,131.4 634.7,135.9 634.9,143.1 635.1,152.0 635.3,140.3 635.5,119.1 635.7,145.9 635.9,142.8 636.1,133.0 636.3,153.2 636.5,138.0 636.7,163.5 636.9,149.1 637.1,147.9 637.3,147.1 637.5,137.7 637.7,151.1 637.9,153.3 638.1,146.4 638.3,157.7 638.5,144.6 638.7,157.8 638.9,145.3 639.1,153.0 639.3,147.6 639.5,155.3 639.6,151.4 639.8,186.5 640.0,128.7 640.2,166.5 640.4,149.8 640.6,165.0 640.8,124.4 641.0,137.0 641.2,154.0 641.4,164.0 641.6,168.2 641.8,175.4 642.0,182.5 642.2,175.3 642.4,168.1 642.6,160.8 642.8,161.3 643.0,138.1 643.2,157.8 643.4,179.2 643.6,158.2 643.8,173.3 644.0,153.2 644.2,147.8 644.4,156.0 644.6,160.4 644.8,178.7 645.0,161.7 645.2,127.6 645.4,169.3 645.6,188.3 645.8,159.5 646.0,135.4 646.2,146.7 646.4,159.9 646.6,155.9 646.8,161.4 647.0,148.3 647.2,151.9 647.4,153.2 647.6,178.5 647.7,155.9 647.9,151.2 648.1,163.6 648.3,146.7 648.5,146.3 648.7,161.7 648.9,137.1 649.1,150.8 649.3,151.1 649.5,128.7 649.7,129.8 649.9,104.7 650.1,122.9 650.3,129.5 650.5,129.0 650.7,140.6 650.9,153.3 651.1,131.8 651.3,137.2 651.5,132.6 651.7,123.1 651.9,135.9 652.1,128.5 652.3,107.0 652.5,146.2 652.7,148.5 652.9,128.8 653.1,129.7 653.3,118.9 653.5,156.8 653.7,167.0 653.9,119.3 654.1,124.4 654.3,140.8 654.5,176.4 654.7,115.3 654.9,119.7 655.1,122.9 655.3,170.7 655.5,139.0 655.7,154.5 655.9,145.4 656.0,129.0 656.2,155.3 656.4,166.4 656.6,170.3 656.8,147.0 657.0,170.5 657.2,161.8 657.4,168.4 657.6,173.9 657.8,169.7 658.0,175.2 658.2,135.0 658.4,148.8 658.6,158.1 658.8,121.8 659.0,146.0 659.2,129.9 659.4,140.2 659.6,154.6 659.8,160.2 660.0,150.2 660.2,120.9 660.4,148.6 660.6,134.0 660.8,144.2 661.0,132.5 661.2,131.9 661.4,145.1 661.6,126.6 661.8,144.3 662.0,129.4 662.2,128.8 662.4,131.6 662.6,127.0 662.8,120.1 663.0,106.7 663.2,105.9 663.4,108.8 663.6,115.6 663.8,122.6 664.0,122.2 664.2,139.6 664.3,142.5 664.5,128.7 664.7,122.7 664.9,136.5 665.1,115.9 665.3,121.1 665.5,121.5 665.7,121.7 665.9,120.9 666.1,107.4 666.3,153.6 666.5,125.6 666.7,159.1 666.9,135.5 667.1,147.2 667.3,159.4 667.5,131.4 667.7,165.4 667.9,152.4 668.1,156.0 668.3,143.6" fill="none" stroke="#f00" stroke-width="1.6" stroke-linejoin="miter" stroke-miterlimit="1.5"/></g>
<rect x="75.7" y="8.4" width="592.60" height="253.00" fill="none" stroke="#000" stroke-width="2.7"/>
<rect x="481" y="25.4" width="169.8" height="41.2" fill="#fff" stroke="#000" stroke-width="2"/>
<path d="M486 36.9H499.4" stroke="#2a2a2a" stroke-width="2"/>
<path d="M486 55H499.4" stroke="#c01820" stroke-width="2.1"/>
<text x="510" y="42.6" font-size="15.8">PROTEIN-APO</text>
<text x="510" y="60.2" font-size="15.8">PROTEIN-LIGAND</text>
<text x="75.70" y="282" font-size="19.5" text-anchor="middle">0</text>
<text x="134.96" y="282" font-size="19.5" text-anchor="middle">20</text>
<text x="194.22" y="282" font-size="19.5" text-anchor="middle">40</text>
<text x="253.48" y="282" font-size="19.5" text-anchor="middle">60</text>
<text x="312.74" y="282" font-size="19.5" text-anchor="middle">80</text>
<text x="372.00" y="282" font-size="19.5" text-anchor="middle">100</text>
<text x="431.26" y="282" font-size="19.5" text-anchor="middle">120</text>
<text x="490.52" y="282" font-size="19.5" text-anchor="middle">140</text>
<text x="549.78" y="282" font-size="19.5" text-anchor="middle">160</text>
<text x="609.04" y="282" font-size="19.5" text-anchor="middle">180</text>
<text x="668.30" y="282" font-size="19.5" text-anchor="middle">200</text>
<text x="70.6" y="268.40" font-size="19.5" text-anchor="end">470</text>
<text x="70.6" y="226.23" font-size="19.5" text-anchor="end">480</text>
<text x="70.6" y="184.07" font-size="19.5" text-anchor="end">490</text>
<text x="70.6" y="141.90" font-size="19.5" text-anchor="end">500</text>
<text x="70.6" y="99.73" font-size="19.5" text-anchor="end">510</text>
<text x="70.6" y="57.57" font-size="19.5" text-anchor="end">520</text>
<text x="70.6" y="15.40" font-size="19.5" text-anchor="end">530</text>
<text x="372.4" y="305.4" font-size="23.8" text-anchor="middle">Time (ns)</text>
<text transform="translate(27.2,133.9) rotate(-90)" font-size="23.6" text-anchor="middle">Area (nm<tspan font-size="15.6" dy="-14.5">2</tspan><tspan dy="14.5">)</tspan></text>
</svg></body></html>
